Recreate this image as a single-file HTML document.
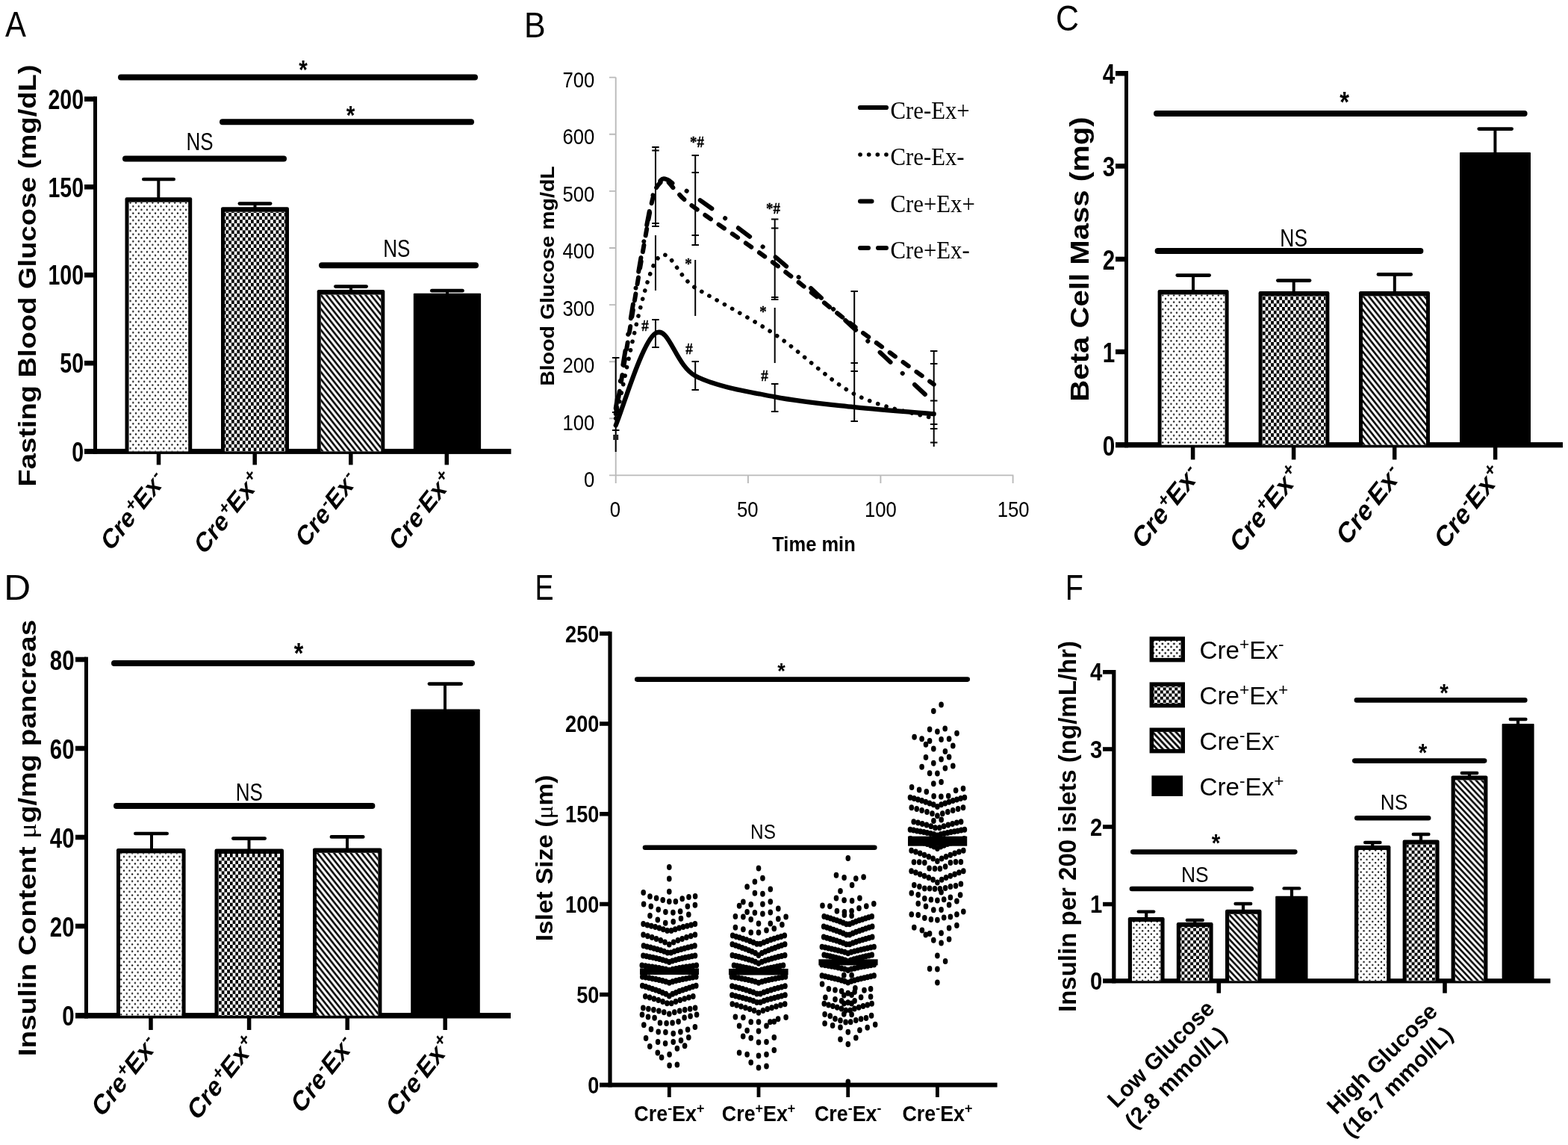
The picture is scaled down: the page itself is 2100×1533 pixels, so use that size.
<!DOCTYPE html>
<html lang="en"><head><meta charset="utf-8"><title>Figure</title>
<style>
html,body{margin:0;padding:0;background:#fff}
body{width:2100px;height:1533px;overflow:hidden}
svg{display:block}
text{font-family:"Liberation Sans", Arial, Helvetica, sans-serif;fill:#000}
text.sf{font-family:"Liberation Serif", "Times New Roman", serif}
</style></head><body>
<svg xmlns="http://www.w3.org/2000/svg" width="2100" height="1533" viewBox="0 0 2100 1533">
<defs>
<pattern id="Ad" patternUnits="userSpaceOnUse" x="176.44" y="273.85" width="7.45" height="9.39"><ellipse cx="1.86" cy="2.35" rx="1.15" ry="1.2"/><ellipse cx="5.59" cy="7.04" rx="1.15" ry="1.2"/></pattern>
<pattern id="Ac" patternUnits="userSpaceOnUse" x="306.2" y="284.9" width="7.45" height="9.39"><rect x="0" y="0" width="3.73" height="4.7"/><rect x="3.73" y="4.7" width="3.73" height="4.7"/></pattern>
<pattern id="Ah" patternUnits="userSpaceOnUse" x="437.26" y="394.9" width="7.45" height="9.39"><path d="M-7.45 -9.39L14.9 18.78M-14.9 -9.39L7.45 18.78M0 -9.39L22.35 18.78" stroke="#000" stroke-width="2.6" fill="none"/></pattern>
<pattern id="Cd" patternUnits="userSpaceOnUse" x="1559.14" y="397.65" width="7.45" height="9.39"><ellipse cx="1.86" cy="2.35" rx="1.15" ry="1.2"/><ellipse cx="5.59" cy="7.04" rx="1.15" ry="1.2"/></pattern>
<pattern id="Cc" patternUnits="userSpaceOnUse" x="1691" y="397" width="7.45" height="9.39"><rect x="0" y="0" width="3.73" height="4.7"/><rect x="3.73" y="4.7" width="3.73" height="4.7"/></pattern>
<pattern id="Ch" patternUnits="userSpaceOnUse" x="1826" y="397" width="7.45" height="9.39"><path d="M-7.45 -9.39L14.9 18.78M-14.9 -9.39L7.45 18.78M0 -9.39L22.35 18.78" stroke="#000" stroke-width="2.6" fill="none"/></pattern>
<pattern id="Dd" patternUnits="userSpaceOnUse" x="164.14" y="1144.65" width="7.45" height="9.39"><ellipse cx="1.86" cy="2.35" rx="1.15" ry="1.2"/><ellipse cx="5.59" cy="7.04" rx="1.15" ry="1.2"/></pattern>
<pattern id="Dc" patternUnits="userSpaceOnUse" x="293" y="1143" width="7.45" height="9.39"><rect x="0" y="0" width="3.73" height="4.7"/><rect x="3.73" y="4.7" width="3.73" height="4.7"/></pattern>
<pattern id="Dh" patternUnits="userSpaceOnUse" x="425" y="1142" width="7.45" height="9.39"><path d="M-7.45 -9.39L14.9 18.78M-14.9 -9.39L7.45 18.78M0 -9.39L22.35 18.78" stroke="#000" stroke-width="2.6" fill="none"/></pattern>
<pattern id="Fd" patternUnits="userSpaceOnUse" x="1520.45" y="1236.02" width="7.8" height="8.3"><ellipse cx="1.95" cy="2.08" rx="1.15" ry="1.15"/><ellipse cx="5.85" cy="6.23" rx="1.15" ry="1.15"/></pattern>
<pattern id="Fc" patternUnits="userSpaceOnUse" x="1582.5" y="1242.5" width="7.8" height="8.3"><rect x="0" y="0" width="3.9" height="4.15"/><rect x="3.9" y="4.15" width="3.9" height="4.15"/></pattern>
<pattern id="Fh" patternUnits="userSpaceOnUse" x="1646" y="1224" width="7.8" height="8.3"><path d="M-7.8 -8.3L15.6 16.6M-15.6 -8.3L7.8 16.6M0 -8.3L23.4 16.6" stroke="#000" stroke-width="2.6" fill="none"/></pattern>
<pattern id="Ld" patternUnits="userSpaceOnUse" x="1547.05" y="859.92" width="7.8" height="8.3"><ellipse cx="1.95" cy="2.08" rx="1.3" ry="1.3"/><ellipse cx="5.85" cy="6.23" rx="1.3" ry="1.3"/></pattern>
<pattern id="Lc" patternUnits="userSpaceOnUse" x="1546" y="858" width="7.8" height="8.3"><rect x="0" y="0" width="3.9" height="4.15"/><rect x="3.9" y="4.15" width="3.9" height="4.15"/></pattern>
<pattern id="Lh" patternUnits="userSpaceOnUse" x="1546" y="858" width="7.8" height="8.3"><path d="M-7.8 -8.3L15.6 16.6M-15.6 -8.3L7.8 16.6M0 -8.3L23.4 16.6" stroke="#000" stroke-width="2.8" fill="none"/></pattern>
</defs>
<rect width="2100" height="1533" fill="#fff"/>
<text transform="translate(7,49) scale(0.86,1)" font-size="48.7">A</text>
<text transform="translate(702,50) scale(0.88,1)" font-size="48.7">B</text>
<text transform="translate(1414,40.5) scale(0.88,1)" font-size="48.7">C</text>
<text transform="translate(5.2,803) scale(1.02,1)" font-size="48.7">D</text>
<text transform="translate(716.4,803) scale(0.77,1)" font-size="48.7">E</text>
<text transform="translate(1426.8,803) scale(0.81,1)" font-size="48.7">F</text>
<rect x="125" y="129.2" width="5" height="478.7"/>
<rect x="113" y="600.9" width="571.5" height="7"/>
<rect x="113" y="129.3" width="14.5" height="6.6"/>
<text transform="translate(112,145.8) scale(0.785,1)" font-size="36.3" font-weight="bold" text-anchor="end">200</text>
<rect x="113" y="247" width="14.5" height="6.6"/>
<text transform="translate(112,263.5) scale(0.785,1)" font-size="36.3" font-weight="bold" text-anchor="end">150</text>
<rect x="113" y="364.9" width="14.5" height="6.6"/>
<text transform="translate(112,381.4) scale(0.785,1)" font-size="36.3" font-weight="bold" text-anchor="end">100</text>
<rect x="113" y="482.9" width="14.5" height="6.6"/>
<text transform="translate(112,499.4) scale(0.785,1)" font-size="36.3" font-weight="bold" text-anchor="end">50</text>
<text transform="translate(112,617.8) scale(0.785,1)" font-size="36.3" font-weight="bold" text-anchor="end">0</text>
<rect x="209.75" y="604.4" width="5.5" height="18"/>
<rect x="338.45" y="604.4" width="5.5" height="18"/>
<rect x="467.05" y="604.4" width="5.5" height="18"/>
<rect x="595.55" y="604.4" width="5.5" height="18"/>
<path d="M167.5 604.4V266.4q0 -2.2 2.2 -2.2H255q2.2 0 2.2 2.2V604.4z"/>
<rect x="172.5" y="270.6" width="79.7" height="333.8" fill="#fff"/>
<rect x="172.5" y="270.6" width="79.7" height="333.8" fill="url(#Ad)"/>
<path d="M296 604.4V279.5q0 -2.2 2.2 -2.2H384.8q2.2 0 2.2 2.2V604.4z"/>
<rect x="301" y="283.7" width="81" height="320.7" fill="#fff"/>
<rect x="301" y="283.7" width="81" height="320.7" fill="url(#Ac)"/>
<path d="M424.7 604.4V390.3q0 -2.2 2.2 -2.2H513.1q2.2 0 2.2 2.2V604.4z"/>
<rect x="429.7" y="394.5" width="80.6" height="209.9" fill="#fff"/>
<rect x="429.7" y="394.5" width="80.6" height="209.9" fill="url(#Ah)"/>
<path d="M553.8 604.4V393.8q0 -1 1 -1H643.1q1 0 1 1V604.4z"/>
<path d="M192.35 240H232.65" stroke="#000" stroke-width="4.7" stroke-linecap="round"/>
<rect x="210.3" y="240" width="4" height="25.2"/>
<path d="M320.85 272.6H362.15" stroke="#000" stroke-width="4.7" stroke-linecap="round"/>
<rect x="339.5" y="272.6" width="4" height="5.7"/>
<path d="M449.35 383.6H490.65" stroke="#000" stroke-width="4.7" stroke-linecap="round"/>
<rect x="468" y="383.6" width="4" height="5.5"/>
<path d="M578.35 389.2H619.45" stroke="#000" stroke-width="4.7" stroke-linecap="round"/>
<rect x="597" y="389.2" width="4" height="4.6"/>
<path d="M162 103.6H636" stroke="#000" stroke-width="8" stroke-linecap="round"/>
<text transform="translate(406,105) scale(0.85,1)" font-size="35" font-weight="bold" text-anchor="middle">*</text>
<path d="M298 163.2H631" stroke="#000" stroke-width="8" stroke-linecap="round"/>
<text transform="translate(469.6,166) scale(0.85,1)" font-size="35" font-weight="bold" text-anchor="middle">*</text>
<path d="M168 212.4H380" stroke="#000" stroke-width="8" stroke-linecap="round"/>
<text transform="translate(267.5,201.3) scale(0.8,1)" font-size="32.5" text-anchor="middle">NS</text>
<path d="M431 355.2H637" stroke="#000" stroke-width="8" stroke-linecap="round"/>
<text transform="translate(531.4,344) scale(0.8,1)" font-size="32.5" text-anchor="middle">NS</text>
<text transform="translate(47.5,369) rotate(-90) scale(1,0.89)" font-size="38.1" font-weight="bold" text-anchor="middle">Fasting Blood Glucose (mg/dL)</text>
<text transform="translate(221.7,646.2) scale(0.79,1) rotate(-45)" font-size="37.4" font-weight="bold" text-anchor="end">Cre<tspan font-size="26.18" dy="-12.34">+</tspan><tspan dy="12.34">Ex</tspan><tspan font-size="26.18" dy="-12.34">-</tspan></text>
<text transform="translate(350.4,646.2) scale(0.79,1) rotate(-45)" font-size="37.4" font-weight="bold" text-anchor="end">Cre<tspan font-size="26.18" dy="-12.34">+</tspan><tspan dy="12.34">Ex</tspan><tspan font-size="26.18" dy="-12.34">+</tspan></text>
<text transform="translate(479,646.2) scale(0.79,1) rotate(-45)" font-size="37.4" font-weight="bold" text-anchor="end">Cre<tspan font-size="26.18" dy="-12.34">-</tspan><tspan dy="12.34">Ex</tspan><tspan font-size="26.18" dy="-12.34">-</tspan></text>
<text transform="translate(607.5,646.2) scale(0.79,1) rotate(-45)" font-size="37.4" font-weight="bold" text-anchor="end">Cre<tspan font-size="26.18" dy="-12.34">-</tspan><tspan dy="12.34">Ex</tspan><tspan font-size="26.18" dy="-12.34">+</tspan></text>
<path d="M824.7 103.6V647M816 636.4H1357.4M816 103.6H824.7M816 179.72H824.7M816 255.84H824.7M816 331.96H824.7M816 408.08H824.7M816 484.2H824.7M816 560.32H824.7M1001.9 636.4V647M1179.4 636.4V647M1356.6 636.4V647" stroke="#bababa" stroke-width="1.9" fill="none"/>
<text transform="translate(796.2,116.5) scale(0.85,1)" font-size="30.2" text-anchor="end">700</text>
<text transform="translate(796.2,193) scale(0.85,1)" font-size="30.2" text-anchor="end">600</text>
<text transform="translate(796.2,269.5) scale(0.85,1)" font-size="30.2" text-anchor="end">500</text>
<text transform="translate(796.2,346) scale(0.85,1)" font-size="30.2" text-anchor="end">400</text>
<text transform="translate(796.2,422.5) scale(0.85,1)" font-size="30.2" text-anchor="end">300</text>
<text transform="translate(796.2,499) scale(0.85,1)" font-size="30.2" text-anchor="end">200</text>
<text transform="translate(796.2,575.5) scale(0.85,1)" font-size="30.2" text-anchor="end">100</text>
<text transform="translate(796.2,652) scale(0.85,1)" font-size="30.2" text-anchor="end">0</text>
<text transform="translate(823.8,691.6) scale(0.85,1)" font-size="30.2" text-anchor="middle">0</text>
<text transform="translate(1001.2,691.6) scale(0.85,1)" font-size="30.2" text-anchor="middle">50</text>
<text transform="translate(1179.4,691.6) scale(0.85,1)" font-size="30.2" text-anchor="middle">100</text>
<text transform="translate(1357.2,691.6) scale(0.85,1)" font-size="30.2" text-anchor="middle">150</text>
<text transform="translate(1090,738.4) scale(0.905,1)" font-size="28.2" font-weight="bold" text-anchor="middle">Time min</text>
<text transform="translate(741.5,369.5) rotate(-90) scale(1,0.9)" font-size="28.5" font-weight="bold" text-anchor="middle">Blood Glucose mg/dL</text>
<path d="M824.7 479V605M819.95 479h9.5M819.95 552h9.5M819.95 576h9.5" stroke="#000" stroke-width="2" fill="none"/>
<rect x="821.2" y="582" width="7" height="7" fill="#222"/>
<path d="M877.95 197V303M873.2 197h9.5M873.2 201.5h9.5M873.2 299h9.5M873.2 303h9.5" stroke="#000" stroke-width="2" fill="none"/>
<path d="M877.95 315V389" stroke="#000" stroke-width="2" fill="none"/>
<path d="M877.95 428V465M873.2 428h9.5M873.2 465h9.5" stroke="#000" stroke-width="2" fill="none"/>
<path d="M931.2 208V328M926.45 208h9.5M926.45 231h9.5M926.45 315h9.5M926.45 328h9.5" stroke="#000" stroke-width="2" fill="none"/>
<path d="M931.2 348V423" stroke="#000" stroke-width="2" fill="none"/>
<path d="M931.2 484V522M926.45 484h9.5M926.45 522h9.5" stroke="#000" stroke-width="2" fill="none"/>
<path d="M1037.7 293.6V400M1032.95 293.6h9.5M1032.95 305.6h9.5M1032.95 398h9.5M1032.95 401h9.5" stroke="#000" stroke-width="2" fill="none"/>
<path d="M1037.7 412V486" stroke="#000" stroke-width="2" fill="none"/>
<path d="M1037.7 514V551M1032.95 514h9.5M1032.95 551h9.5" stroke="#000" stroke-width="2" fill="none"/>
<path d="M1144.2 390V565M1139.45 390h9.5M1139.45 486h9.5M1139.45 497h9.5M1139.45 564h9.5" stroke="#000" stroke-width="2" fill="none"/>
<path d="M1250.7 470V598M1245.95 470h9.5M1245.95 487h9.5M1245.95 536.6h9.5M1245.95 568h9.5M1245.95 574h9.5M1245.95 592.4h9.5" stroke="#000" stroke-width="2" fill="none"/>
<path d="M824.7 546.59C827.66 528.83 836.53 475.3 842.45 440.04C848.37 404.77 854.88 364.69 860.2 335C865.53 305.32 870.26 277.54 874.4 261.94C878.54 246.34 881.8 244.94 885.05 241.39C888.3 237.84 890.38 239.23 893.93 240.63C897.48 242.02 900.14 245.96 906.35 249.76C912.56 253.57 909.31 247.86 931.2 263.46C953.09 279.06 1002.2 313.95 1037.7 343.38C1073.2 372.81 1108.7 407.44 1144.2 440.04C1179.7 472.64 1232.95 522.49 1250.7 538.98" fill="none" stroke="#000" stroke-width="6" stroke-linecap="round" stroke-dasharray="19 22 0.1 22" stroke-dashoffset="4"/>
<path d="M824.7 554.2C827.66 536.44 836.53 483.17 842.45 447.65C848.37 412.13 854.88 371.54 860.2 341.09C865.53 310.65 870.26 281.22 874.4 264.98C878.54 248.75 881.8 247.35 885.05 243.67C888.3 239.99 890.38 240.75 893.93 242.91C897.48 245.07 900.14 250.65 906.35 256.61C912.56 262.57 909.31 262.57 931.2 278.68C953.09 294.79 1002.2 326.89 1037.7 353.27C1073.2 379.66 1108.7 410.1 1144.2 436.99C1179.7 463.88 1232.95 501.69 1250.7 514.62" fill="none" stroke="#000" stroke-width="6" stroke-linecap="round" stroke-dasharray="9 13"/>
<path d="M824.7 560.29C833.58 525.28 860.2 379.4 877.95 350.23C895.7 321.05 904.58 369 931.2 385.24C957.83 401.47 1002.2 423.93 1037.7 447.65C1073.2 471.37 1108.7 508.79 1144.2 527.56C1179.7 546.34 1232.95 554.84 1250.7 560.29" fill="none" stroke="#000" stroke-width="5.6" stroke-linecap="round" stroke-dasharray="0.1 11.6"/>
<path d="M824.7 569.42C833.58 548.87 860.2 457.16 877.95 446.12C895.7 435.09 904.58 489 931.2 503.21C957.83 517.41 1002.2 524.39 1037.7 531.37C1073.2 538.34 1108.7 541.26 1144.2 545.07C1179.7 548.87 1232.95 552.68 1250.7 554.2" fill="none" stroke="#000" stroke-width="6.2" stroke-linecap="round" stroke-linejoin="round"/>
<text transform="translate(933.5,197) scale(0.88,1)" font-size="21.5" class="sf" font-weight="bold" text-anchor="middle" stroke="#000" stroke-width="0.4">*#</text>
<text transform="translate(1035.5,285.5) scale(0.88,1)" font-size="21.5" class="sf" font-weight="bold" text-anchor="middle" stroke="#000" stroke-width="0.4">*#</text>
<text transform="translate(922,360) scale(0.88,1)" font-size="21.5" class="sf" font-weight="bold" text-anchor="middle" stroke="#000" stroke-width="0.4">*</text>
<text transform="translate(1022,424) scale(0.88,1)" font-size="21.5" class="sf" font-weight="bold" text-anchor="middle" stroke="#000" stroke-width="0.4">*</text>
<text transform="translate(864,442.5) scale(0.88,1)" font-size="21.5" class="sf" font-weight="bold" text-anchor="middle" stroke="#000" stroke-width="0.4">#</text>
<text transform="translate(923,473.5) scale(0.88,1)" font-size="21.5" class="sf" font-weight="bold" text-anchor="middle" stroke="#000" stroke-width="0.4">#</text>
<text transform="translate(1024,509.5) scale(0.88,1)" font-size="21.5" class="sf" font-weight="bold" text-anchor="middle" stroke="#000" stroke-width="0.4">#</text>
<path d="M1152 144H1187" stroke="#000" stroke-width="6.2" stroke-linecap="round"/>
<path d="M1152 207H1187" stroke="#000" stroke-width="5.6" stroke-linecap="round" stroke-dasharray="0.1 11.55"/>
<path d="M1152 269.4H1167.5" stroke="#000" stroke-width="6" stroke-linecap="round"/>
<path d="M1152 332H1187" stroke="#000" stroke-width="6" stroke-linecap="round" stroke-dasharray="11 13"/>
<text transform="translate(1192.5,159) scale(0.9,1)" font-size="34.2" class="sf">Cre-Ex+</text>
<text transform="translate(1192.5,221) scale(0.9,1)" font-size="34.2" class="sf">Cre-Ex-</text>
<text transform="translate(1192.5,283.6) scale(0.9,1)" font-size="34.2" class="sf">Cre+Ex+</text>
<text transform="translate(1192.5,345.6) scale(0.9,1)" font-size="34.2" class="sf">Cre+Ex-</text>
<rect x="1506" y="95" width="5" height="504.3"/>
<rect x="1494" y="592.1" width="599" height="7.2"/>
<rect x="1494" y="95" width="14.5" height="6.6"/>
<text transform="translate(1493.3,112.1) scale(0.785,1)" font-size="37.8" font-weight="bold" text-anchor="end">4</text>
<rect x="1494" y="219.1" width="14.5" height="6.6"/>
<text transform="translate(1493.3,236.2) scale(0.785,1)" font-size="37.8" font-weight="bold" text-anchor="end">3</text>
<rect x="1494" y="343.7" width="14.5" height="6.6"/>
<text transform="translate(1493.3,360.8) scale(0.785,1)" font-size="37.8" font-weight="bold" text-anchor="end">2</text>
<rect x="1494" y="467.7" width="14.5" height="6.6"/>
<text transform="translate(1493.3,484.8) scale(0.785,1)" font-size="37.8" font-weight="bold" text-anchor="end">1</text>
<text transform="translate(1493.3,609.7) scale(0.785,1)" font-size="37.8" font-weight="bold" text-anchor="end">0</text>
<rect x="1594.85" y="595.7" width="5.5" height="19.7"/>
<rect x="1729.85" y="595.7" width="5.5" height="19.7"/>
<rect x="1864.95" y="595.7" width="5.5" height="19.7"/>
<rect x="1999.85" y="595.7" width="5.5" height="19.7"/>
<path d="M1550.6 595.7V390.2q0 -2.2 2.2 -2.2H1643.4q2.2 0 2.2 2.2V595.7z"/>
<rect x="1555.6" y="394.4" width="85" height="201.3" fill="#fff"/>
<rect x="1555.6" y="394.4" width="85" height="201.3" fill="url(#Cd)"/>
<path d="M1685.6 595.7V392.2q0 -2.2 2.2 -2.2H1778.2q2.2 0 2.2 2.2V595.7z"/>
<rect x="1690.6" y="396.4" width="84.8" height="199.3" fill="#fff"/>
<rect x="1690.6" y="396.4" width="84.8" height="199.3" fill="url(#Cc)"/>
<path d="M1820 595.7V392.2q0 -2.2 2.2 -2.2H1912.8q2.2 0 2.2 2.2V595.7z"/>
<rect x="1825" y="396.4" width="85" height="199.3" fill="#fff"/>
<rect x="1825" y="396.4" width="85" height="199.3" fill="url(#Ch)"/>
<path d="M1955 595.7V205q0 -1 1 -1H2049q1 0 1 1V595.7z"/>
<path d="M1576.75 368.6H1619.65" stroke="#000" stroke-width="4.7" stroke-linecap="round"/>
<rect x="1596" y="368.6" width="4" height="20.4"/>
<path d="M1711.35 375.6H1754.05" stroke="#000" stroke-width="4.7" stroke-linecap="round"/>
<rect x="1730.7" y="375.6" width="4" height="15.4"/>
<path d="M1845.95 367.4H1889.65" stroke="#000" stroke-width="4.7" stroke-linecap="round"/>
<rect x="1865.8" y="367.4" width="4" height="23.6"/>
<path d="M1980.75 172.6H2024.65" stroke="#000" stroke-width="4.7" stroke-linecap="round"/>
<rect x="2000.4" y="172.6" width="4" height="32.4"/>
<path d="M1549 152H2041.6" stroke="#000" stroke-width="8" stroke-linecap="round"/>
<text transform="translate(1800.6,149.5) scale(0.85,1)" font-size="38.5" font-weight="bold" text-anchor="middle">*</text>
<path d="M1550.6 336H1902.4" stroke="#000" stroke-width="8" stroke-linecap="round"/>
<text transform="translate(1732.7,329.8) scale(0.8,1)" font-size="33" text-anchor="middle">NS</text>
<text transform="translate(1458,347) rotate(-90) scale(1,0.88)" font-size="40.15" font-weight="bold" text-anchor="middle">Beta Cell Mass (mg)</text>
<text transform="translate(1607.2,638.9) scale(0.79,1) rotate(-45)" font-size="39.3" font-weight="bold" text-anchor="end">Cre<tspan font-size="27.51" dy="-12.97">+</tspan><tspan dy="12.97">Ex</tspan><tspan font-size="27.51" dy="-12.97">-</tspan></text>
<text transform="translate(1742.2,638.9) scale(0.79,1) rotate(-45)" font-size="39.3" font-weight="bold" text-anchor="end">Cre<tspan font-size="27.51" dy="-12.97">+</tspan><tspan dy="12.97">Ex</tspan><tspan font-size="27.51" dy="-12.97">+</tspan></text>
<text transform="translate(1877.3,638.9) scale(0.79,1) rotate(-45)" font-size="39.3" font-weight="bold" text-anchor="end">Cre<tspan font-size="27.51" dy="-12.97">-</tspan><tspan dy="12.97">Ex</tspan><tspan font-size="27.51" dy="-12.97">-</tspan></text>
<text transform="translate(2012.2,638.9) scale(0.79,1) rotate(-45)" font-size="39.3" font-weight="bold" text-anchor="end">Cre<tspan font-size="27.51" dy="-12.97">-</tspan><tspan dy="12.97">Ex</tspan><tspan font-size="27.51" dy="-12.97">+</tspan></text>
<rect x="113" y="879.6" width="5" height="483.9"/>
<rect x="101" y="1356.1" width="583" height="7.4"/>
<rect x="101" y="879.7" width="14.5" height="6.6"/>
<text transform="translate(99.5,896.6) scale(0.785,1)" font-size="37.4" font-weight="bold" text-anchor="end">80</text>
<rect x="101" y="998.7" width="14.5" height="6.6"/>
<text transform="translate(99.5,1015.6) scale(0.785,1)" font-size="37.4" font-weight="bold" text-anchor="end">60</text>
<rect x="101" y="1117.7" width="14.5" height="6.6"/>
<text transform="translate(99.5,1134.6) scale(0.785,1)" font-size="37.4" font-weight="bold" text-anchor="end">40</text>
<rect x="101" y="1236.7" width="14.5" height="6.6"/>
<text transform="translate(99.5,1253.6) scale(0.785,1)" font-size="37.4" font-weight="bold" text-anchor="end">20</text>
<text transform="translate(99.5,1373.4) scale(0.785,1)" font-size="37.4" font-weight="bold" text-anchor="end">0</text>
<rect x="199.25" y="1359.8" width="5.5" height="19.2"/>
<rect x="330.85" y="1359.8" width="5.5" height="19.2"/>
<rect x="462.45" y="1359.8" width="5.5" height="19.2"/>
<rect x="593.45" y="1359.8" width="5.5" height="19.2"/>
<path d="M156 1359.8V1138.2q0 -2.2 2.2 -2.2H246.4q2.2 0 2.2 2.2V1359.8z"/>
<rect x="161" y="1142.4" width="82.6" height="217.4" fill="#fff"/>
<rect x="161" y="1142.4" width="82.6" height="217.4" fill="url(#Dd)"/>
<path d="M287.5 1359.8V1138.8q0 -2.2 2.2 -2.2H377.8q2.2 0 2.2 2.2V1359.8z"/>
<rect x="292.5" y="1143" width="82.5" height="216.8" fill="#fff"/>
<rect x="292.5" y="1143" width="82.5" height="216.8" fill="url(#Dc)"/>
<path d="M419 1359.8V1137.6q0 -2.2 2.2 -2.2H509.2q2.2 0 2.2 2.2V1359.8z"/>
<rect x="424" y="1141.8" width="82.4" height="218" fill="#fff"/>
<rect x="424" y="1141.8" width="82.4" height="218" fill="url(#Dh)"/>
<path d="M550.2 1359.8V950.6q0 -1 1 -1H641.8q1 0 1 1V1359.8z"/>
<path d="M181.35 1116H223.65" stroke="#000" stroke-width="4.7" stroke-linecap="round"/>
<rect x="201" y="1116" width="4" height="21"/>
<path d="M312.35 1122.6H354.65" stroke="#000" stroke-width="4.7" stroke-linecap="round"/>
<rect x="331.5" y="1122.6" width="4" height="15"/>
<path d="M443.95 1120.4H486.25" stroke="#000" stroke-width="4.7" stroke-linecap="round"/>
<rect x="463" y="1120.4" width="4" height="16"/>
<path d="M574.95 915.6H617.65" stroke="#000" stroke-width="4.7" stroke-linecap="round"/>
<rect x="594" y="915.6" width="4" height="35"/>
<path d="M152.9 888H632.1" stroke="#000" stroke-width="7.8" stroke-linecap="round"/>
<text transform="translate(400,887.5) scale(0.85,1)" font-size="38" font-weight="bold" text-anchor="middle">*</text>
<path d="M155.9 1079H498.5" stroke="#000" stroke-width="7.8" stroke-linecap="round"/>
<text transform="translate(333.7,1072.3) scale(0.8,1)" font-size="32.5" text-anchor="middle">NS</text>
<text transform="translate(47.5,1122) rotate(-90) scale(1,0.88)" font-size="38.6" font-weight="bold" text-anchor="middle">Insulin Content <tspan font-weight="normal" class="sf" font-family='"Liberation Serif", serif'>μ</tspan>g/mg pancreas</text>
<text transform="translate(211.4,1402) scale(0.79,1) rotate(-45)" font-size="38.2" font-weight="bold" text-anchor="end">Cre<tspan font-size="26.74" dy="-12.61">+</tspan><tspan dy="12.61">Ex</tspan><tspan font-size="26.74" dy="-12.61">-</tspan></text>
<text transform="translate(343,1402) scale(0.79,1) rotate(-45)" font-size="38.2" font-weight="bold" text-anchor="end">Cre<tspan font-size="26.74" dy="-12.61">+</tspan><tspan dy="12.61">Ex</tspan><tspan font-size="26.74" dy="-12.61">+</tspan></text>
<text transform="translate(474.6,1402) scale(0.79,1) rotate(-45)" font-size="38.2" font-weight="bold" text-anchor="end">Cre<tspan font-size="26.74" dy="-12.61">-</tspan><tspan dy="12.61">Ex</tspan><tspan font-size="26.74" dy="-12.61">-</tspan></text>
<text transform="translate(605.6,1402) scale(0.79,1) rotate(-45)" font-size="38.2" font-weight="bold" text-anchor="end">Cre<tspan font-size="26.74" dy="-12.61">-</tspan><tspan dy="12.61">Ex</tspan><tspan font-size="26.74" dy="-12.61">+</tspan></text>
<rect x="814.4" y="845.6" width="5.2" height="610"/>
<rect x="803" y="1449.6" width="532.6" height="6"/>
<rect x="803" y="845.5" width="14" height="5.6"/>
<text transform="translate(802.3,859.6) scale(0.875,1)" font-size="31" font-weight="bold" text-anchor="end">250</text>
<rect x="803" y="966.2" width="14" height="5.6"/>
<text transform="translate(802.3,980.3) scale(0.875,1)" font-size="31" font-weight="bold" text-anchor="end">200</text>
<rect x="803" y="1087" width="14" height="5.6"/>
<text transform="translate(802.3,1101.1) scale(0.875,1)" font-size="31" font-weight="bold" text-anchor="end">150</text>
<rect x="803" y="1207.7" width="14" height="5.6"/>
<text transform="translate(802.3,1221.8) scale(0.875,1)" font-size="31" font-weight="bold" text-anchor="end">100</text>
<rect x="803" y="1328.8" width="14" height="5.6"/>
<text transform="translate(802.3,1342.9) scale(0.875,1)" font-size="31" font-weight="bold" text-anchor="end">50</text>
<text transform="translate(802.3,1463.9) scale(0.875,1)" font-size="31" font-weight="bold" text-anchor="end">0</text>
<rect x="893.9" y="1452.6" width="4.8" height="16.4"/>
<rect x="1013.6" y="1452.6" width="4.8" height="16.4"/>
<rect x="1133.3" y="1452.6" width="4.8" height="16.4"/>
<rect x="1253" y="1452.6" width="4.8" height="16.4"/>
<path d="M853.3 909.6H1295.7" stroke="#000" stroke-width="6.6" stroke-linecap="round"/>
<text transform="translate(1046.6,908) scale(0.9,1)" font-size="30" font-weight="bold" text-anchor="middle">*</text>
<path d="M864 1134.8H1171.3" stroke="#000" stroke-width="6.6" stroke-linecap="round"/>
<text transform="translate(1022,1122.8) scale(0.86,1)" font-size="28.3" text-anchor="middle">NS</text>
<text transform="translate(740,1149) rotate(-90) scale(1,0.92)" font-size="33.5" font-weight="bold" text-anchor="middle">Islet Size (<tspan font-weight="normal" font-family='"Liberation Serif", serif'>μ</tspan>m)</text>
<text transform="translate(896.3,1501) scale(0.92,1)" font-size="29.2" font-weight="bold" text-anchor="middle">Cre<tspan font-size="19.27" dy="-11.1">-</tspan><tspan dy="11.1">Ex</tspan><tspan font-size="19.27" dy="-11.1">+</tspan></text>
<text transform="translate(1016,1501) scale(0.92,1)" font-size="29.2" font-weight="bold" text-anchor="middle">Cre<tspan font-size="19.27" dy="-11.1">+</tspan><tspan dy="11.1">Ex</tspan><tspan font-size="19.27" dy="-11.1">+</tspan></text>
<text transform="translate(1135.7,1501) scale(0.92,1)" font-size="29.2" font-weight="bold" text-anchor="middle">Cre<tspan font-size="19.27" dy="-11.1">-</tspan><tspan dy="11.1">Ex</tspan><tspan font-size="19.27" dy="-11.1">-</tspan></text>
<text transform="translate(1255.4,1501) scale(0.92,1)" font-size="29.2" font-weight="bold" text-anchor="middle">Cre<tspan font-size="19.27" dy="-11.1">-</tspan><tspan dy="11.1">Ex</tspan><tspan font-size="19.27" dy="-11.1">+</tspan></text>
<g><ellipse cx="896.3" cy="1161.1" rx="3.3" ry="4"/><ellipse cx="896.3" cy="1176.6" rx="3.3" ry="4"/><ellipse cx="896.3" cy="1193.7" rx="3.3" ry="4"/><ellipse cx="861.7" cy="1194.9" rx="3.3" ry="4"/><ellipse cx="870.5" cy="1200.2" rx="3.3" ry="4"/><ellipse cx="879.1" cy="1202.6" rx="3.3" ry="4"/><ellipse cx="887.7" cy="1204.9" rx="3.3" ry="4"/><ellipse cx="896.3" cy="1207.1" rx="3.3" ry="4"/><ellipse cx="904.9" cy="1207.1" rx="3.3" ry="4"/><ellipse cx="913.7" cy="1203.2" rx="3.3" ry="4"/><ellipse cx="922.5" cy="1200.9" rx="3.3" ry="4"/><ellipse cx="931.1" cy="1200.0" rx="3.3" ry="4"/><ellipse cx="862.1" cy="1210.5" rx="3.3" ry="4"/><ellipse cx="871.8" cy="1213.5" rx="3.3" ry="4"/><ellipse cx="881.7" cy="1217.7" rx="3.3" ry="4"/><ellipse cx="891.4" cy="1220.9" rx="3.3" ry="4"/><ellipse cx="901.4" cy="1221.8" rx="3.3" ry="4"/><ellipse cx="911.1" cy="1220.2" rx="3.3" ry="4"/><ellipse cx="920.9" cy="1213.5" rx="3.3" ry="4"/><ellipse cx="930.9" cy="1211.8" rx="3.3" ry="4"/><ellipse cx="870.5" cy="1226.1" rx="3.3" ry="4"/><ellipse cx="880.8" cy="1231.4" rx="3.3" ry="4"/><ellipse cx="891.2" cy="1235.8" rx="3.3" ry="4"/><ellipse cx="901.7" cy="1233.9" rx="3.3" ry="4"/><ellipse cx="912.0" cy="1229.7" rx="3.3" ry="4"/><ellipse cx="922.3" cy="1224.6" rx="3.3" ry="4"/><ellipse cx="861.6" cy="1237.1" rx="3.3" ry="4"/><ellipse cx="867.0" cy="1238.4" rx="3.3" ry="4"/><ellipse cx="872.3" cy="1239.7" rx="3.3" ry="4"/><ellipse cx="877.6" cy="1241.1" rx="3.3" ry="4"/><ellipse cx="883.0" cy="1242.6" rx="3.3" ry="4"/><ellipse cx="888.3" cy="1244.2" rx="3.3" ry="4"/><ellipse cx="893.6" cy="1246.1" rx="3.3" ry="4"/><ellipse cx="899.0" cy="1246.1" rx="3.3" ry="4"/><ellipse cx="904.3" cy="1244.2" rx="3.3" ry="4"/><ellipse cx="909.6" cy="1242.6" rx="3.3" ry="4"/><ellipse cx="915.0" cy="1241.1" rx="3.3" ry="4"/><ellipse cx="920.3" cy="1239.7" rx="3.3" ry="4"/><ellipse cx="925.6" cy="1238.4" rx="3.3" ry="4"/><ellipse cx="930.9" cy="1237.1" rx="3.3" ry="4"/><ellipse cx="861.6" cy="1251.4" rx="3.3" ry="4"/><ellipse cx="867.4" cy="1253.2" rx="3.3" ry="4"/><ellipse cx="873.2" cy="1255.1" rx="3.3" ry="4"/><ellipse cx="879.0" cy="1257.0" rx="3.3" ry="4"/><ellipse cx="884.8" cy="1259.1" rx="3.3" ry="4"/><ellipse cx="890.5" cy="1261.5" rx="3.3" ry="4"/><ellipse cx="896.3" cy="1264.6" rx="3.3" ry="4"/><ellipse cx="902.1" cy="1261.5" rx="3.3" ry="4"/><ellipse cx="907.9" cy="1259.1" rx="3.3" ry="4"/><ellipse cx="913.6" cy="1257.0" rx="3.3" ry="4"/><ellipse cx="919.4" cy="1255.1" rx="3.3" ry="4"/><ellipse cx="925.2" cy="1253.2" rx="3.3" ry="4"/><ellipse cx="930.9" cy="1251.4" rx="3.3" ry="4"/><ellipse cx="862.0" cy="1266.3" rx="3.3" ry="4"/><ellipse cx="866.6" cy="1267.4" rx="3.3" ry="4"/><ellipse cx="871.2" cy="1268.6" rx="3.3" ry="4"/><ellipse cx="875.8" cy="1269.8" rx="3.3" ry="4"/><ellipse cx="880.3" cy="1271.0" rx="3.3" ry="4"/><ellipse cx="884.9" cy="1272.3" rx="3.3" ry="4"/><ellipse cx="889.4" cy="1273.8" rx="3.3" ry="4"/><ellipse cx="894.0" cy="1275.4" rx="3.3" ry="4"/><ellipse cx="898.6" cy="1275.4" rx="3.3" ry="4"/><ellipse cx="903.1" cy="1273.8" rx="3.3" ry="4"/><ellipse cx="907.7" cy="1272.3" rx="3.3" ry="4"/><ellipse cx="912.3" cy="1271.0" rx="3.3" ry="4"/><ellipse cx="916.8" cy="1269.8" rx="3.3" ry="4"/><ellipse cx="921.4" cy="1268.6" rx="3.3" ry="4"/><ellipse cx="926.0" cy="1267.4" rx="3.3" ry="4"/><ellipse cx="930.5" cy="1266.3" rx="3.3" ry="4"/><ellipse cx="861.5" cy="1279.4" rx="3.3" ry="4"/><ellipse cx="865.9" cy="1280.3" rx="3.3" ry="4"/><ellipse cx="870.2" cy="1281.2" rx="3.3" ry="4"/><ellipse cx="874.6" cy="1282.1" rx="3.3" ry="4"/><ellipse cx="878.9" cy="1283.1" rx="3.3" ry="4"/><ellipse cx="883.3" cy="1284.1" rx="3.3" ry="4"/><ellipse cx="887.6" cy="1285.2" rx="3.3" ry="4"/><ellipse cx="892.0" cy="1286.4" rx="3.3" ry="4"/><ellipse cx="896.3" cy="1288.0" rx="3.3" ry="4"/><ellipse cx="900.6" cy="1286.4" rx="3.3" ry="4"/><ellipse cx="905.0" cy="1285.2" rx="3.3" ry="4"/><ellipse cx="909.3" cy="1284.1" rx="3.3" ry="4"/><ellipse cx="913.7" cy="1283.1" rx="3.3" ry="4"/><ellipse cx="918.0" cy="1282.1" rx="3.3" ry="4"/><ellipse cx="922.4" cy="1281.2" rx="3.3" ry="4"/><ellipse cx="926.7" cy="1280.3" rx="3.3" ry="4"/><ellipse cx="931.0" cy="1279.4" rx="3.3" ry="4"/><ellipse cx="859.8" cy="1292.6" rx="3.3" ry="4"/><ellipse cx="864.4" cy="1293.2" rx="3.3" ry="4"/><ellipse cx="868.9" cy="1293.9" rx="3.3" ry="4"/><ellipse cx="873.5" cy="1294.6" rx="3.3" ry="4"/><ellipse cx="878.0" cy="1295.3" rx="3.3" ry="4"/><ellipse cx="882.6" cy="1296.1" rx="3.3" ry="4"/><ellipse cx="887.2" cy="1296.9" rx="3.3" ry="4"/><ellipse cx="891.7" cy="1297.8" rx="3.3" ry="4"/><ellipse cx="896.3" cy="1299.0" rx="3.3" ry="4"/><ellipse cx="900.9" cy="1297.8" rx="3.3" ry="4"/><ellipse cx="905.4" cy="1296.9" rx="3.3" ry="4"/><ellipse cx="910.0" cy="1296.1" rx="3.3" ry="4"/><ellipse cx="914.5" cy="1295.3" rx="3.3" ry="4"/><ellipse cx="919.1" cy="1294.6" rx="3.3" ry="4"/><ellipse cx="923.7" cy="1293.9" rx="3.3" ry="4"/><ellipse cx="928.2" cy="1293.2" rx="3.3" ry="4"/><ellipse cx="932.8" cy="1292.6" rx="3.3" ry="4"/><ellipse cx="860.3" cy="1307.7" rx="3.3" ry="4"/><ellipse cx="864.8" cy="1308.5" rx="3.3" ry="4"/><ellipse cx="869.3" cy="1309.3" rx="3.3" ry="4"/><ellipse cx="873.8" cy="1310.2" rx="3.3" ry="4"/><ellipse cx="878.3" cy="1311.1" rx="3.3" ry="4"/><ellipse cx="882.8" cy="1312.0" rx="3.3" ry="4"/><ellipse cx="887.3" cy="1313.1" rx="3.3" ry="4"/><ellipse cx="891.8" cy="1314.2" rx="3.3" ry="4"/><ellipse cx="896.3" cy="1315.7" rx="3.3" ry="4"/><ellipse cx="900.8" cy="1314.2" rx="3.3" ry="4"/><ellipse cx="905.3" cy="1313.1" rx="3.3" ry="4"/><ellipse cx="909.8" cy="1312.0" rx="3.3" ry="4"/><ellipse cx="914.3" cy="1311.1" rx="3.3" ry="4"/><ellipse cx="918.8" cy="1310.2" rx="3.3" ry="4"/><ellipse cx="923.3" cy="1309.3" rx="3.3" ry="4"/><ellipse cx="927.8" cy="1308.5" rx="3.3" ry="4"/><ellipse cx="932.3" cy="1307.7" rx="3.3" ry="4"/><ellipse cx="860.3" cy="1319.7" rx="3.3" ry="4"/><ellipse cx="864.8" cy="1321.1" rx="3.3" ry="4"/><ellipse cx="869.3" cy="1322.5" rx="3.3" ry="4"/><ellipse cx="873.8" cy="1324.0" rx="3.3" ry="4"/><ellipse cx="878.3" cy="1325.5" rx="3.3" ry="4"/><ellipse cx="882.8" cy="1327.1" rx="3.3" ry="4"/><ellipse cx="887.3" cy="1328.9" rx="3.3" ry="4"/><ellipse cx="891.8" cy="1330.8" rx="3.3" ry="4"/><ellipse cx="896.3" cy="1333.4" rx="3.3" ry="4"/><ellipse cx="900.8" cy="1330.8" rx="3.3" ry="4"/><ellipse cx="905.3" cy="1328.9" rx="3.3" ry="4"/><ellipse cx="909.8" cy="1327.1" rx="3.3" ry="4"/><ellipse cx="914.3" cy="1325.5" rx="3.3" ry="4"/><ellipse cx="918.8" cy="1324.0" rx="3.3" ry="4"/><ellipse cx="923.3" cy="1322.5" rx="3.3" ry="4"/><ellipse cx="927.8" cy="1321.1" rx="3.3" ry="4"/><ellipse cx="932.3" cy="1319.7" rx="3.3" ry="4"/><ellipse cx="864.3" cy="1334.0" rx="3.3" ry="4"/><ellipse cx="870.1" cy="1335.6" rx="3.3" ry="4"/><ellipse cx="875.9" cy="1337.3" rx="3.3" ry="4"/><ellipse cx="881.8" cy="1339.1" rx="3.3" ry="4"/><ellipse cx="887.6" cy="1341.0" rx="3.3" ry="4"/><ellipse cx="893.4" cy="1343.3" rx="3.3" ry="4"/><ellipse cx="899.2" cy="1343.3" rx="3.3" ry="4"/><ellipse cx="905.0" cy="1341.0" rx="3.3" ry="4"/><ellipse cx="910.8" cy="1339.1" rx="3.3" ry="4"/><ellipse cx="916.7" cy="1337.3" rx="3.3" ry="4"/><ellipse cx="922.5" cy="1335.6" rx="3.3" ry="4"/><ellipse cx="928.3" cy="1334.0" rx="3.3" ry="4"/><ellipse cx="861.4" cy="1349.4" rx="3.3" ry="4"/><ellipse cx="868.4" cy="1350.7" rx="3.3" ry="4"/><ellipse cx="875.4" cy="1352.1" rx="3.3" ry="4"/><ellipse cx="882.4" cy="1353.6" rx="3.3" ry="4"/><ellipse cx="889.3" cy="1355.2" rx="3.3" ry="4"/><ellipse cx="896.3" cy="1357.4" rx="3.3" ry="4"/><ellipse cx="903.3" cy="1355.2" rx="3.3" ry="4"/><ellipse cx="910.2" cy="1353.6" rx="3.3" ry="4"/><ellipse cx="917.2" cy="1352.1" rx="3.3" ry="4"/><ellipse cx="924.2" cy="1350.7" rx="3.3" ry="4"/><ellipse cx="931.1" cy="1349.4" rx="3.3" ry="4"/><ellipse cx="860.0" cy="1358.6" rx="3.3" ry="4"/><ellipse cx="868.0" cy="1361.4" rx="3.3" ry="4"/><ellipse cx="876.6" cy="1362.8" rx="3.3" ry="4"/><ellipse cx="884.0" cy="1369.4" rx="3.3" ry="4"/><ellipse cx="892.6" cy="1370.0" rx="3.3" ry="4"/><ellipse cx="900.6" cy="1369.4" rx="3.3" ry="4"/><ellipse cx="908.6" cy="1367.7" rx="3.3" ry="4"/><ellipse cx="916.6" cy="1362.6" rx="3.3" ry="4"/><ellipse cx="924.6" cy="1360.6" rx="3.3" ry="4"/><ellipse cx="933.1" cy="1358.6" rx="3.3" ry="4"/><ellipse cx="862.3" cy="1372.3" rx="3.3" ry="4"/><ellipse cx="872.0" cy="1378.0" rx="3.3" ry="4"/><ellipse cx="881.7" cy="1381.4" rx="3.3" ry="4"/><ellipse cx="891.4" cy="1382.0" rx="3.3" ry="4"/><ellipse cx="901.7" cy="1383.7" rx="3.3" ry="4"/><ellipse cx="911.4" cy="1381.4" rx="3.3" ry="4"/><ellipse cx="921.1" cy="1378.6" rx="3.3" ry="4"/><ellipse cx="930.9" cy="1375.1" rx="3.3" ry="4"/><ellipse cx="865.1" cy="1390.0" rx="3.3" ry="4"/><ellipse cx="881.1" cy="1395.1" rx="3.3" ry="4"/><ellipse cx="891.1" cy="1396.9" rx="3.3" ry="4"/><ellipse cx="901.7" cy="1395.1" rx="3.3" ry="4"/><ellipse cx="912.0" cy="1392.9" rx="3.3" ry="4"/><ellipse cx="922.3" cy="1388.9" rx="3.3" ry="4"/><ellipse cx="870.3" cy="1400.9" rx="3.3" ry="4"/><ellipse cx="906.9" cy="1403.7" rx="3.3" ry="4"/><ellipse cx="917.1" cy="1400.3" rx="3.3" ry="4"/><ellipse cx="880.8" cy="1409.4" rx="3.3" ry="4"/><ellipse cx="896.6" cy="1411.7" rx="3.3" ry="4"/><ellipse cx="886.1" cy="1415.7" rx="3.3" ry="4"/><ellipse cx="896.6" cy="1426.6" rx="3.3" ry="4"/><ellipse cx="906.9" cy="1425.4" rx="3.3" ry="4"/><ellipse cx="1016.0" cy="1162.5" rx="3.3" ry="4"/><ellipse cx="1021.4" cy="1175.8" rx="3.3" ry="4"/><ellipse cx="1010.9" cy="1180.6" rx="3.3" ry="4"/><ellipse cx="1000.6" cy="1187.2" rx="3.3" ry="4"/><ellipse cx="1031.8" cy="1190.5" rx="3.3" ry="4"/><ellipse cx="1010.9" cy="1195.8" rx="3.3" ry="4"/><ellipse cx="1021.4" cy="1196.8" rx="3.3" ry="4"/><ellipse cx="995.4" cy="1207.4" rx="3.3" ry="4"/><ellipse cx="1031.8" cy="1207.2" rx="3.3" ry="4"/><ellipse cx="990.1" cy="1212.7" rx="3.3" ry="4"/><ellipse cx="1005.7" cy="1211.1" rx="3.3" ry="4"/><ellipse cx="1021.4" cy="1210.6" rx="3.3" ry="4"/><ellipse cx="1042.3" cy="1216.6" rx="3.3" ry="4"/><ellipse cx="1000.6" cy="1220.9" rx="3.3" ry="4"/><ellipse cx="1010.9" cy="1222.1" rx="3.3" ry="4"/><ellipse cx="1021.4" cy="1223.4" rx="3.3" ry="4"/><ellipse cx="1031.8" cy="1221.4" rx="3.3" ry="4"/><ellipse cx="984.9" cy="1226.9" rx="3.3" ry="4"/><ellipse cx="995.4" cy="1227.4" rx="3.3" ry="4"/><ellipse cx="1005.7" cy="1230.9" rx="3.3" ry="4"/><ellipse cx="1042.3" cy="1230.3" rx="3.3" ry="4"/><ellipse cx="1052.6" cy="1227.4" rx="3.3" ry="4"/><ellipse cx="1016.0" cy="1236.6" rx="3.3" ry="4"/><ellipse cx="1031.8" cy="1236.6" rx="3.3" ry="4"/><ellipse cx="1047.4" cy="1237.9" rx="3.3" ry="4"/><ellipse cx="984.9" cy="1241.7" rx="3.3" ry="4"/><ellipse cx="995.4" cy="1244.2" rx="3.3" ry="4"/><ellipse cx="1026.5" cy="1245.4" rx="3.3" ry="4"/><ellipse cx="1036.8" cy="1243.2" rx="3.3" ry="4"/><ellipse cx="1005.7" cy="1248.6" rx="3.3" ry="4"/><ellipse cx="1016.0" cy="1248.6" rx="3.3" ry="4"/><ellipse cx="981.2" cy="1252.6" rx="3.3" ry="4"/><ellipse cx="985.9" cy="1254.0" rx="3.3" ry="4"/><ellipse cx="990.5" cy="1255.3" rx="3.3" ry="4"/><ellipse cx="995.1" cy="1256.8" rx="3.3" ry="4"/><ellipse cx="999.8" cy="1258.3" rx="3.3" ry="4"/><ellipse cx="1004.4" cy="1259.9" rx="3.3" ry="4"/><ellipse cx="1009.0" cy="1261.7" rx="3.3" ry="4"/><ellipse cx="1013.7" cy="1263.7" rx="3.3" ry="4"/><ellipse cx="1018.3" cy="1263.7" rx="3.3" ry="4"/><ellipse cx="1023.0" cy="1261.7" rx="3.3" ry="4"/><ellipse cx="1027.6" cy="1259.9" rx="3.3" ry="4"/><ellipse cx="1032.2" cy="1258.3" rx="3.3" ry="4"/><ellipse cx="1036.8" cy="1256.8" rx="3.3" ry="4"/><ellipse cx="1041.5" cy="1255.3" rx="3.3" ry="4"/><ellipse cx="1046.1" cy="1254.0" rx="3.3" ry="4"/><ellipse cx="1050.8" cy="1252.6" rx="3.3" ry="4"/><ellipse cx="980.8" cy="1264.3" rx="3.3" ry="4"/><ellipse cx="985.2" cy="1265.8" rx="3.3" ry="4"/><ellipse cx="989.6" cy="1267.3" rx="3.3" ry="4"/><ellipse cx="994.0" cy="1268.9" rx="3.3" ry="4"/><ellipse cx="998.4" cy="1270.5" rx="3.3" ry="4"/><ellipse cx="1002.8" cy="1272.2" rx="3.3" ry="4"/><ellipse cx="1007.2" cy="1274.1" rx="3.3" ry="4"/><ellipse cx="1011.6" cy="1276.1" rx="3.3" ry="4"/><ellipse cx="1016.0" cy="1278.9" rx="3.3" ry="4"/><ellipse cx="1020.4" cy="1276.1" rx="3.3" ry="4"/><ellipse cx="1024.8" cy="1274.1" rx="3.3" ry="4"/><ellipse cx="1029.2" cy="1272.2" rx="3.3" ry="4"/><ellipse cx="1033.6" cy="1270.5" rx="3.3" ry="4"/><ellipse cx="1038.0" cy="1268.9" rx="3.3" ry="4"/><ellipse cx="1042.4" cy="1267.3" rx="3.3" ry="4"/><ellipse cx="1046.8" cy="1265.8" rx="3.3" ry="4"/><ellipse cx="1051.2" cy="1264.3" rx="3.3" ry="4"/><ellipse cx="980.8" cy="1278.9" rx="3.3" ry="4"/><ellipse cx="985.2" cy="1280.0" rx="3.3" ry="4"/><ellipse cx="989.6" cy="1281.1" rx="3.3" ry="4"/><ellipse cx="994.0" cy="1282.3" rx="3.3" ry="4"/><ellipse cx="998.4" cy="1283.5" rx="3.3" ry="4"/><ellipse cx="1002.8" cy="1284.8" rx="3.3" ry="4"/><ellipse cx="1007.2" cy="1286.1" rx="3.3" ry="4"/><ellipse cx="1011.6" cy="1287.7" rx="3.3" ry="4"/><ellipse cx="1016.0" cy="1289.7" rx="3.3" ry="4"/><ellipse cx="1020.4" cy="1287.7" rx="3.3" ry="4"/><ellipse cx="1024.8" cy="1286.1" rx="3.3" ry="4"/><ellipse cx="1029.2" cy="1284.8" rx="3.3" ry="4"/><ellipse cx="1033.6" cy="1283.5" rx="3.3" ry="4"/><ellipse cx="1038.0" cy="1282.3" rx="3.3" ry="4"/><ellipse cx="1042.4" cy="1281.1" rx="3.3" ry="4"/><ellipse cx="1046.8" cy="1280.0" rx="3.3" ry="4"/><ellipse cx="1051.2" cy="1278.9" rx="3.3" ry="4"/><ellipse cx="983.0" cy="1292.6" rx="3.3" ry="4"/><ellipse cx="987.1" cy="1293.3" rx="3.3" ry="4"/><ellipse cx="991.2" cy="1294.1" rx="3.3" ry="4"/><ellipse cx="995.4" cy="1294.9" rx="3.3" ry="4"/><ellipse cx="999.5" cy="1295.7" rx="3.3" ry="4"/><ellipse cx="1003.6" cy="1296.6" rx="3.3" ry="4"/><ellipse cx="1007.8" cy="1297.6" rx="3.3" ry="4"/><ellipse cx="1011.9" cy="1298.6" rx="3.3" ry="4"/><ellipse cx="1016.0" cy="1300.0" rx="3.3" ry="4"/><ellipse cx="1020.1" cy="1298.6" rx="3.3" ry="4"/><ellipse cx="1024.2" cy="1297.6" rx="3.3" ry="4"/><ellipse cx="1028.4" cy="1296.6" rx="3.3" ry="4"/><ellipse cx="1032.5" cy="1295.7" rx="3.3" ry="4"/><ellipse cx="1036.6" cy="1294.9" rx="3.3" ry="4"/><ellipse cx="1040.8" cy="1294.1" rx="3.3" ry="4"/><ellipse cx="1044.9" cy="1293.3" rx="3.3" ry="4"/><ellipse cx="1049.0" cy="1292.6" rx="3.3" ry="4"/><ellipse cx="980.0" cy="1307.7" rx="3.3" ry="4"/><ellipse cx="984.5" cy="1308.5" rx="3.3" ry="4"/><ellipse cx="989.0" cy="1309.3" rx="3.3" ry="4"/><ellipse cx="993.5" cy="1310.2" rx="3.3" ry="4"/><ellipse cx="998.0" cy="1311.1" rx="3.3" ry="4"/><ellipse cx="1002.5" cy="1312.0" rx="3.3" ry="4"/><ellipse cx="1007.0" cy="1313.1" rx="3.3" ry="4"/><ellipse cx="1011.5" cy="1314.2" rx="3.3" ry="4"/><ellipse cx="1016.0" cy="1315.7" rx="3.3" ry="4"/><ellipse cx="1020.5" cy="1314.2" rx="3.3" ry="4"/><ellipse cx="1025.0" cy="1313.1" rx="3.3" ry="4"/><ellipse cx="1029.5" cy="1312.0" rx="3.3" ry="4"/><ellipse cx="1034.0" cy="1311.1" rx="3.3" ry="4"/><ellipse cx="1038.5" cy="1310.2" rx="3.3" ry="4"/><ellipse cx="1043.0" cy="1309.3" rx="3.3" ry="4"/><ellipse cx="1047.5" cy="1308.5" rx="3.3" ry="4"/><ellipse cx="1052.0" cy="1307.7" rx="3.3" ry="4"/><ellipse cx="980.5" cy="1320.3" rx="3.3" ry="4"/><ellipse cx="985.2" cy="1321.5" rx="3.3" ry="4"/><ellipse cx="990.0" cy="1322.8" rx="3.3" ry="4"/><ellipse cx="994.7" cy="1324.1" rx="3.3" ry="4"/><ellipse cx="999.4" cy="1325.5" rx="3.3" ry="4"/><ellipse cx="1004.2" cy="1327.0" rx="3.3" ry="4"/><ellipse cx="1008.9" cy="1328.6" rx="3.3" ry="4"/><ellipse cx="1013.6" cy="1330.4" rx="3.3" ry="4"/><ellipse cx="1018.4" cy="1330.4" rx="3.3" ry="4"/><ellipse cx="1023.1" cy="1328.6" rx="3.3" ry="4"/><ellipse cx="1027.8" cy="1327.0" rx="3.3" ry="4"/><ellipse cx="1032.6" cy="1325.5" rx="3.3" ry="4"/><ellipse cx="1037.3" cy="1324.1" rx="3.3" ry="4"/><ellipse cx="1042.0" cy="1322.8" rx="3.3" ry="4"/><ellipse cx="1046.8" cy="1321.5" rx="3.3" ry="4"/><ellipse cx="1051.5" cy="1320.3" rx="3.3" ry="4"/><ellipse cx="980.5" cy="1332.3" rx="3.3" ry="4"/><ellipse cx="985.2" cy="1333.5" rx="3.3" ry="4"/><ellipse cx="990.0" cy="1334.7" rx="3.3" ry="4"/><ellipse cx="994.7" cy="1335.9" rx="3.3" ry="4"/><ellipse cx="999.4" cy="1337.2" rx="3.3" ry="4"/><ellipse cx="1004.2" cy="1338.6" rx="3.3" ry="4"/><ellipse cx="1008.9" cy="1340.1" rx="3.3" ry="4"/><ellipse cx="1013.6" cy="1341.9" rx="3.3" ry="4"/><ellipse cx="1018.4" cy="1341.9" rx="3.3" ry="4"/><ellipse cx="1023.1" cy="1340.1" rx="3.3" ry="4"/><ellipse cx="1027.8" cy="1338.6" rx="3.3" ry="4"/><ellipse cx="1032.6" cy="1337.2" rx="3.3" ry="4"/><ellipse cx="1037.3" cy="1335.9" rx="3.3" ry="4"/><ellipse cx="1042.0" cy="1334.7" rx="3.3" ry="4"/><ellipse cx="1046.8" cy="1333.5" rx="3.3" ry="4"/><ellipse cx="1051.5" cy="1332.3" rx="3.3" ry="4"/><ellipse cx="980.8" cy="1344.3" rx="3.3" ry="4"/><ellipse cx="986.6" cy="1345.8" rx="3.3" ry="4"/><ellipse cx="992.5" cy="1347.5" rx="3.3" ry="4"/><ellipse cx="998.4" cy="1349.2" rx="3.3" ry="4"/><ellipse cx="1004.2" cy="1351.0" rx="3.3" ry="4"/><ellipse cx="1010.1" cy="1353.0" rx="3.3" ry="4"/><ellipse cx="1016.0" cy="1355.7" rx="3.3" ry="4"/><ellipse cx="1021.9" cy="1353.0" rx="3.3" ry="4"/><ellipse cx="1027.8" cy="1351.0" rx="3.3" ry="4"/><ellipse cx="1033.6" cy="1349.2" rx="3.3" ry="4"/><ellipse cx="1039.5" cy="1347.5" rx="3.3" ry="4"/><ellipse cx="1045.4" cy="1345.8" rx="3.3" ry="4"/><ellipse cx="1051.2" cy="1344.3" rx="3.3" ry="4"/><ellipse cx="984.9" cy="1361.4" rx="3.3" ry="4"/><ellipse cx="995.4" cy="1362.3" rx="3.3" ry="4"/><ellipse cx="1005.7" cy="1368.3" rx="3.3" ry="4"/><ellipse cx="1016.0" cy="1368.3" rx="3.3" ry="4"/><ellipse cx="1026.5" cy="1373.4" rx="3.3" ry="4"/><ellipse cx="1031.4" cy="1368.3" rx="3.3" ry="4"/><ellipse cx="1036.8" cy="1367.7" rx="3.3" ry="4"/><ellipse cx="1042.1" cy="1364.3" rx="3.3" ry="4"/><ellipse cx="1052.6" cy="1362.0" rx="3.3" ry="4"/><ellipse cx="990.1" cy="1373.4" rx="3.3" ry="4"/><ellipse cx="1000.6" cy="1379.7" rx="3.3" ry="4"/><ellipse cx="1016.0" cy="1380.6" rx="3.3" ry="4"/><ellipse cx="995.2" cy="1387.5" rx="3.3" ry="4"/><ellipse cx="1005.7" cy="1389.8" rx="3.3" ry="4"/><ellipse cx="1036.8" cy="1388.9" rx="3.3" ry="4"/><ellipse cx="1016.0" cy="1395.4" rx="3.3" ry="4"/><ellipse cx="1026.5" cy="1395.1" rx="3.3" ry="4"/><ellipse cx="990.1" cy="1409.4" rx="3.3" ry="4"/><ellipse cx="1000.6" cy="1411.7" rx="3.3" ry="4"/><ellipse cx="1016.0" cy="1413.4" rx="3.3" ry="4"/><ellipse cx="1026.5" cy="1411.7" rx="3.3" ry="4"/><ellipse cx="1036.8" cy="1406.0" rx="3.3" ry="4"/><ellipse cx="1005.7" cy="1422.6" rx="3.3" ry="4"/><ellipse cx="1016.0" cy="1429.4" rx="3.3" ry="4"/><ellipse cx="1026.5" cy="1427.5" rx="3.3" ry="4"/><ellipse cx="1135.8" cy="1149.1" rx="3.3" ry="4"/><ellipse cx="1120.0" cy="1171.7" rx="3.3" ry="4"/><ellipse cx="1130.6" cy="1175.1" rx="3.3" ry="4"/><ellipse cx="1146.3" cy="1176.3" rx="3.3" ry="4"/><ellipse cx="1156.6" cy="1174.2" rx="3.3" ry="4"/><ellipse cx="1141.1" cy="1184.9" rx="3.3" ry="4"/><ellipse cx="1125.5" cy="1193.1" rx="3.3" ry="4"/><ellipse cx="1120.0" cy="1202.6" rx="3.3" ry="4"/><ellipse cx="1130.6" cy="1205.2" rx="3.3" ry="4"/><ellipse cx="1141.1" cy="1206.0" rx="3.3" ry="4"/><ellipse cx="1151.4" cy="1202.6" rx="3.3" ry="4"/><ellipse cx="1101.5" cy="1212.6" rx="3.3" ry="4"/><ellipse cx="1111.4" cy="1213.2" rx="3.3" ry="4"/><ellipse cx="1170.3" cy="1210.0" rx="3.3" ry="4"/><ellipse cx="1160.3" cy="1213.2" rx="3.3" ry="4"/><ellipse cx="1150.5" cy="1215.9" rx="3.3" ry="4"/><ellipse cx="1120.9" cy="1219.7" rx="3.3" ry="4"/><ellipse cx="1130.9" cy="1220.9" rx="3.3" ry="4"/><ellipse cx="1140.6" cy="1219.7" rx="3.3" ry="4"/><ellipse cx="1130.9" cy="1224.9" rx="3.3" ry="4"/><ellipse cx="1140.6" cy="1226.0" rx="3.3" ry="4"/><ellipse cx="1103.7" cy="1227.1" rx="3.3" ry="4"/><ellipse cx="1108.0" cy="1228.3" rx="3.3" ry="4"/><ellipse cx="1112.2" cy="1229.6" rx="3.3" ry="4"/><ellipse cx="1116.5" cy="1231.0" rx="3.3" ry="4"/><ellipse cx="1120.8" cy="1232.3" rx="3.3" ry="4"/><ellipse cx="1125.0" cy="1233.8" rx="3.3" ry="4"/><ellipse cx="1129.3" cy="1235.4" rx="3.3" ry="4"/><ellipse cx="1133.6" cy="1237.3" rx="3.3" ry="4"/><ellipse cx="1137.8" cy="1237.3" rx="3.3" ry="4"/><ellipse cx="1142.1" cy="1235.4" rx="3.3" ry="4"/><ellipse cx="1146.4" cy="1233.8" rx="3.3" ry="4"/><ellipse cx="1150.6" cy="1232.3" rx="3.3" ry="4"/><ellipse cx="1154.9" cy="1231.0" rx="3.3" ry="4"/><ellipse cx="1159.2" cy="1229.6" rx="3.3" ry="4"/><ellipse cx="1163.4" cy="1228.3" rx="3.3" ry="4"/><ellipse cx="1167.7" cy="1227.1" rx="3.3" ry="4"/><ellipse cx="1103.2" cy="1240.5" rx="3.3" ry="4"/><ellipse cx="1107.5" cy="1241.8" rx="3.3" ry="4"/><ellipse cx="1111.9" cy="1243.2" rx="3.3" ry="4"/><ellipse cx="1116.2" cy="1244.7" rx="3.3" ry="4"/><ellipse cx="1120.5" cy="1246.2" rx="3.3" ry="4"/><ellipse cx="1124.9" cy="1247.8" rx="3.3" ry="4"/><ellipse cx="1129.2" cy="1249.5" rx="3.3" ry="4"/><ellipse cx="1133.5" cy="1251.5" rx="3.3" ry="4"/><ellipse cx="1137.9" cy="1251.5" rx="3.3" ry="4"/><ellipse cx="1142.2" cy="1249.5" rx="3.3" ry="4"/><ellipse cx="1146.5" cy="1247.8" rx="3.3" ry="4"/><ellipse cx="1150.9" cy="1246.2" rx="3.3" ry="4"/><ellipse cx="1155.2" cy="1244.7" rx="3.3" ry="4"/><ellipse cx="1159.5" cy="1243.2" rx="3.3" ry="4"/><ellipse cx="1163.9" cy="1241.8" rx="3.3" ry="4"/><ellipse cx="1168.2" cy="1240.5" rx="3.3" ry="4"/><ellipse cx="1103.2" cy="1254.6" rx="3.3" ry="4"/><ellipse cx="1107.5" cy="1255.8" rx="3.3" ry="4"/><ellipse cx="1111.9" cy="1257.0" rx="3.3" ry="4"/><ellipse cx="1116.2" cy="1258.2" rx="3.3" ry="4"/><ellipse cx="1120.5" cy="1259.5" rx="3.3" ry="4"/><ellipse cx="1124.9" cy="1260.9" rx="3.3" ry="4"/><ellipse cx="1129.2" cy="1262.4" rx="3.3" ry="4"/><ellipse cx="1133.5" cy="1264.2" rx="3.3" ry="4"/><ellipse cx="1137.9" cy="1264.2" rx="3.3" ry="4"/><ellipse cx="1142.2" cy="1262.4" rx="3.3" ry="4"/><ellipse cx="1146.5" cy="1260.9" rx="3.3" ry="4"/><ellipse cx="1150.9" cy="1259.5" rx="3.3" ry="4"/><ellipse cx="1155.2" cy="1258.2" rx="3.3" ry="4"/><ellipse cx="1159.5" cy="1257.0" rx="3.3" ry="4"/><ellipse cx="1163.9" cy="1255.8" rx="3.3" ry="4"/><ellipse cx="1168.2" cy="1254.6" rx="3.3" ry="4"/><ellipse cx="1100.9" cy="1267.7" rx="3.3" ry="4"/><ellipse cx="1105.2" cy="1268.6" rx="3.3" ry="4"/><ellipse cx="1109.6" cy="1269.5" rx="3.3" ry="4"/><ellipse cx="1113.9" cy="1270.4" rx="3.3" ry="4"/><ellipse cx="1118.3" cy="1271.4" rx="3.3" ry="4"/><ellipse cx="1122.6" cy="1272.4" rx="3.3" ry="4"/><ellipse cx="1127.0" cy="1273.5" rx="3.3" ry="4"/><ellipse cx="1131.3" cy="1274.7" rx="3.3" ry="4"/><ellipse cx="1135.7" cy="1276.3" rx="3.3" ry="4"/><ellipse cx="1140.1" cy="1274.7" rx="3.3" ry="4"/><ellipse cx="1144.4" cy="1273.5" rx="3.3" ry="4"/><ellipse cx="1148.8" cy="1272.4" rx="3.3" ry="4"/><ellipse cx="1153.1" cy="1271.4" rx="3.3" ry="4"/><ellipse cx="1157.5" cy="1270.4" rx="3.3" ry="4"/><ellipse cx="1161.8" cy="1269.5" rx="3.3" ry="4"/><ellipse cx="1166.2" cy="1268.6" rx="3.3" ry="4"/><ellipse cx="1170.6" cy="1267.7" rx="3.3" ry="4"/><ellipse cx="1103.7" cy="1278.6" rx="3.3" ry="4"/><ellipse cx="1107.7" cy="1279.5" rx="3.3" ry="4"/><ellipse cx="1111.7" cy="1280.3" rx="3.3" ry="4"/><ellipse cx="1115.7" cy="1281.2" rx="3.3" ry="4"/><ellipse cx="1119.7" cy="1282.2" rx="3.3" ry="4"/><ellipse cx="1123.7" cy="1283.2" rx="3.3" ry="4"/><ellipse cx="1127.7" cy="1284.2" rx="3.3" ry="4"/><ellipse cx="1131.7" cy="1285.4" rx="3.3" ry="4"/><ellipse cx="1135.7" cy="1287.0" rx="3.3" ry="4"/><ellipse cx="1139.7" cy="1285.4" rx="3.3" ry="4"/><ellipse cx="1143.7" cy="1284.2" rx="3.3" ry="4"/><ellipse cx="1147.7" cy="1283.2" rx="3.3" ry="4"/><ellipse cx="1151.7" cy="1282.2" rx="3.3" ry="4"/><ellipse cx="1155.7" cy="1281.2" rx="3.3" ry="4"/><ellipse cx="1159.7" cy="1280.3" rx="3.3" ry="4"/><ellipse cx="1163.7" cy="1279.5" rx="3.3" ry="4"/><ellipse cx="1167.7" cy="1278.6" rx="3.3" ry="4"/><ellipse cx="1100.7" cy="1291.4" rx="3.3" ry="4"/><ellipse cx="1105.1" cy="1292.2" rx="3.3" ry="4"/><ellipse cx="1109.5" cy="1292.9" rx="3.3" ry="4"/><ellipse cx="1113.8" cy="1293.8" rx="3.3" ry="4"/><ellipse cx="1118.2" cy="1294.6" rx="3.3" ry="4"/><ellipse cx="1122.6" cy="1295.5" rx="3.3" ry="4"/><ellipse cx="1127.0" cy="1296.4" rx="3.3" ry="4"/><ellipse cx="1131.3" cy="1297.5" rx="3.3" ry="4"/><ellipse cx="1135.7" cy="1298.9" rx="3.3" ry="4"/><ellipse cx="1140.1" cy="1297.5" rx="3.3" ry="4"/><ellipse cx="1144.5" cy="1296.4" rx="3.3" ry="4"/><ellipse cx="1148.8" cy="1295.5" rx="3.3" ry="4"/><ellipse cx="1153.2" cy="1294.6" rx="3.3" ry="4"/><ellipse cx="1157.6" cy="1293.8" rx="3.3" ry="4"/><ellipse cx="1162.0" cy="1292.9" rx="3.3" ry="4"/><ellipse cx="1166.3" cy="1292.2" rx="3.3" ry="4"/><ellipse cx="1170.7" cy="1291.4" rx="3.3" ry="4"/><ellipse cx="1100.9" cy="1306.3" rx="3.3" ry="4"/><ellipse cx="1105.2" cy="1307.2" rx="3.3" ry="4"/><ellipse cx="1109.6" cy="1308.2" rx="3.3" ry="4"/><ellipse cx="1113.9" cy="1309.2" rx="3.3" ry="4"/><ellipse cx="1118.3" cy="1310.2" rx="3.3" ry="4"/><ellipse cx="1122.6" cy="1311.2" rx="3.3" ry="4"/><ellipse cx="1127.0" cy="1312.4" rx="3.3" ry="4"/><ellipse cx="1131.3" cy="1313.7" rx="3.3" ry="4"/><ellipse cx="1135.7" cy="1315.4" rx="3.3" ry="4"/><ellipse cx="1140.1" cy="1313.7" rx="3.3" ry="4"/><ellipse cx="1144.4" cy="1312.4" rx="3.3" ry="4"/><ellipse cx="1148.8" cy="1311.2" rx="3.3" ry="4"/><ellipse cx="1153.1" cy="1310.2" rx="3.3" ry="4"/><ellipse cx="1157.5" cy="1309.2" rx="3.3" ry="4"/><ellipse cx="1161.8" cy="1308.2" rx="3.3" ry="4"/><ellipse cx="1166.2" cy="1307.2" rx="3.3" ry="4"/><ellipse cx="1170.6" cy="1306.3" rx="3.3" ry="4"/><ellipse cx="1103.8" cy="1343.8" rx="3.3" ry="4"/><ellipse cx="1109.6" cy="1345.4" rx="3.3" ry="4"/><ellipse cx="1115.4" cy="1347.0" rx="3.3" ry="4"/><ellipse cx="1121.2" cy="1348.7" rx="3.3" ry="4"/><ellipse cx="1127.0" cy="1350.6" rx="3.3" ry="4"/><ellipse cx="1132.8" cy="1352.8" rx="3.3" ry="4"/><ellipse cx="1138.6" cy="1352.8" rx="3.3" ry="4"/><ellipse cx="1144.4" cy="1350.6" rx="3.3" ry="4"/><ellipse cx="1150.2" cy="1348.7" rx="3.3" ry="4"/><ellipse cx="1156.0" cy="1347.0" rx="3.3" ry="4"/><ellipse cx="1161.8" cy="1345.4" rx="3.3" ry="4"/><ellipse cx="1167.6" cy="1343.8" rx="3.3" ry="4"/><ellipse cx="1130.3" cy="1305.7" rx="3.3" ry="4"/><ellipse cx="1140.6" cy="1305.7" rx="3.3" ry="4"/><ellipse cx="1101.1" cy="1317.4" rx="3.3" ry="4"/><ellipse cx="1109.9" cy="1324.0" rx="3.3" ry="4"/><ellipse cx="1118.5" cy="1325.4" rx="3.3" ry="4"/><ellipse cx="1127.1" cy="1326.9" rx="3.3" ry="4"/><ellipse cx="1130.3" cy="1332.6" rx="3.3" ry="4"/><ellipse cx="1135.7" cy="1329.7" rx="3.3" ry="4"/><ellipse cx="1140.6" cy="1332.0" rx="3.3" ry="4"/><ellipse cx="1144.6" cy="1328.0" rx="3.3" ry="4"/><ellipse cx="1145.4" cy="1322.9" rx="3.3" ry="4"/><ellipse cx="1157.5" cy="1325.7" rx="3.3" ry="4"/><ellipse cx="1166.1" cy="1324.0" rx="3.3" ry="4"/><ellipse cx="1105.4" cy="1335.4" rx="3.3" ry="4"/><ellipse cx="1118.5" cy="1338.1" rx="3.3" ry="4"/><ellipse cx="1127.1" cy="1340.0" rx="3.3" ry="4"/><ellipse cx="1130.3" cy="1343.4" rx="3.3" ry="4"/><ellipse cx="1135.7" cy="1342.3" rx="3.3" ry="4"/><ellipse cx="1140.6" cy="1343.4" rx="3.3" ry="4"/><ellipse cx="1144.6" cy="1340.0" rx="3.3" ry="4"/><ellipse cx="1153.1" cy="1335.2" rx="3.3" ry="4"/><ellipse cx="1166.1" cy="1334.6" rx="3.3" ry="4"/><ellipse cx="1130.3" cy="1357.7" rx="3.3" ry="4"/><ellipse cx="1140.6" cy="1358.3" rx="3.3" ry="4"/><ellipse cx="1104.6" cy="1357.9" rx="3.3" ry="4"/><ellipse cx="1111.8" cy="1360.3" rx="3.3" ry="4"/><ellipse cx="1118.5" cy="1364.0" rx="3.3" ry="4"/><ellipse cx="1125.5" cy="1366.3" rx="3.3" ry="4"/><ellipse cx="1132.6" cy="1368.6" rx="3.3" ry="4"/><ellipse cx="1139.2" cy="1368.3" rx="3.3" ry="4"/><ellipse cx="1146.3" cy="1365.9" rx="3.3" ry="4"/><ellipse cx="1153.1" cy="1364.3" rx="3.3" ry="4"/><ellipse cx="1160.0" cy="1363.1" rx="3.3" ry="4"/><ellipse cx="1167.1" cy="1359.7" rx="3.3" ry="4"/><ellipse cx="1104.6" cy="1370.3" rx="3.3" ry="4"/><ellipse cx="1115.1" cy="1373.1" rx="3.3" ry="4"/><ellipse cx="1125.5" cy="1375.4" rx="3.3" ry="4"/><ellipse cx="1135.8" cy="1381.7" rx="3.3" ry="4"/><ellipse cx="1151.4" cy="1379.2" rx="3.3" ry="4"/><ellipse cx="1161.7" cy="1375.7" rx="3.3" ry="4"/><ellipse cx="1172.2" cy="1371.8" rx="3.3" ry="4"/><ellipse cx="1125.5" cy="1391.4" rx="3.3" ry="4"/><ellipse cx="1135.8" cy="1398.1" rx="3.3" ry="4"/><ellipse cx="1146.3" cy="1389.5" rx="3.3" ry="4"/><ellipse cx="1135.8" cy="1448.6" rx="3.3" ry="4"/><ellipse cx="1260.6" cy="943.5" rx="3.3" ry="4"/><ellipse cx="1250.3" cy="951.9" rx="3.3" ry="4"/><ellipse cx="1245.1" cy="976.4" rx="3.3" ry="4"/><ellipse cx="1255.4" cy="979.5" rx="3.3" ry="4"/><ellipse cx="1265.7" cy="975.6" rx="3.3" ry="4"/><ellipse cx="1281.5" cy="981.8" rx="3.3" ry="4"/><ellipse cx="1224.6" cy="986.7" rx="3.3" ry="4"/><ellipse cx="1234.6" cy="989.3" rx="3.3" ry="4"/><ellipse cx="1245.1" cy="991.9" rx="3.3" ry="4"/><ellipse cx="1240.0" cy="996.8" rx="3.3" ry="4"/><ellipse cx="1260.6" cy="990.1" rx="3.3" ry="4"/><ellipse cx="1271.1" cy="989.3" rx="3.3" ry="4"/><ellipse cx="1276.3" cy="998.5" rx="3.3" ry="4"/><ellipse cx="1250.3" cy="1002.5" rx="3.3" ry="4"/><ellipse cx="1265.9" cy="1005.9" rx="3.3" ry="4"/><ellipse cx="1240.0" cy="1013.9" rx="3.3" ry="4"/><ellipse cx="1260.6" cy="1016.4" rx="3.3" ry="4"/><ellipse cx="1271.1" cy="1013.6" rx="3.3" ry="4"/><ellipse cx="1250.3" cy="1021.8" rx="3.3" ry="4"/><ellipse cx="1234.6" cy="1026.7" rx="3.3" ry="4"/><ellipse cx="1265.9" cy="1028.4" rx="3.3" ry="4"/><ellipse cx="1276.3" cy="1025.6" rx="3.3" ry="4"/><ellipse cx="1245.1" cy="1035.3" rx="3.3" ry="4"/><ellipse cx="1255.4" cy="1035.6" rx="3.3" ry="4"/><ellipse cx="1250.3" cy="1049.2" rx="3.3" ry="4"/><ellipse cx="1260.6" cy="1046.9" rx="3.3" ry="4"/><ellipse cx="1221.1" cy="1054.0" rx="3.3" ry="4"/><ellipse cx="1231.1" cy="1057.5" rx="3.3" ry="4"/><ellipse cx="1240.8" cy="1060.0" rx="3.3" ry="4"/><ellipse cx="1250.6" cy="1066.1" rx="3.3" ry="4"/><ellipse cx="1260.4" cy="1066.4" rx="3.3" ry="4"/><ellipse cx="1270.2" cy="1065.8" rx="3.3" ry="4"/><ellipse cx="1280.1" cy="1058.3" rx="3.3" ry="4"/><ellipse cx="1290.0" cy="1055.7" rx="3.3" ry="4"/><ellipse cx="1219.0" cy="1067.7" rx="3.3" ry="4"/><ellipse cx="1224.2" cy="1069.1" rx="3.3" ry="4"/><ellipse cx="1229.4" cy="1070.6" rx="3.3" ry="4"/><ellipse cx="1234.6" cy="1072.1" rx="3.3" ry="4"/><ellipse cx="1239.8" cy="1073.7" rx="3.3" ry="4"/><ellipse cx="1245.0" cy="1075.4" rx="3.3" ry="4"/><ellipse cx="1250.2" cy="1077.3" rx="3.3" ry="4"/><ellipse cx="1255.4" cy="1079.9" rx="3.3" ry="4"/><ellipse cx="1260.6" cy="1077.3" rx="3.3" ry="4"/><ellipse cx="1265.8" cy="1075.4" rx="3.3" ry="4"/><ellipse cx="1271.0" cy="1073.7" rx="3.3" ry="4"/><ellipse cx="1276.2" cy="1072.1" rx="3.3" ry="4"/><ellipse cx="1281.4" cy="1070.6" rx="3.3" ry="4"/><ellipse cx="1286.6" cy="1069.1" rx="3.3" ry="4"/><ellipse cx="1291.9" cy="1067.7" rx="3.3" ry="4"/><ellipse cx="1220.8" cy="1081.3" rx="3.3" ry="4"/><ellipse cx="1227.7" cy="1083.1" rx="3.3" ry="4"/><ellipse cx="1234.6" cy="1085.0" rx="3.3" ry="4"/><ellipse cx="1241.5" cy="1087.0" rx="3.3" ry="4"/><ellipse cx="1248.5" cy="1089.2" rx="3.3" ry="4"/><ellipse cx="1255.4" cy="1092.2" rx="3.3" ry="4"/><ellipse cx="1262.3" cy="1089.2" rx="3.3" ry="4"/><ellipse cx="1269.3" cy="1087.0" rx="3.3" ry="4"/><ellipse cx="1276.2" cy="1085.0" rx="3.3" ry="4"/><ellipse cx="1283.1" cy="1083.1" rx="3.3" ry="4"/><ellipse cx="1290.0" cy="1081.3" rx="3.3" ry="4"/><ellipse cx="1223.7" cy="1100.2" rx="3.3" ry="4"/><ellipse cx="1229.5" cy="1101.6" rx="3.3" ry="4"/><ellipse cx="1235.2" cy="1103.1" rx="3.3" ry="4"/><ellipse cx="1241.0" cy="1104.6" rx="3.3" ry="4"/><ellipse cx="1246.8" cy="1106.3" rx="3.3" ry="4"/><ellipse cx="1252.5" cy="1108.3" rx="3.3" ry="4"/><ellipse cx="1258.3" cy="1108.3" rx="3.3" ry="4"/><ellipse cx="1264.0" cy="1106.3" rx="3.3" ry="4"/><ellipse cx="1269.8" cy="1104.6" rx="3.3" ry="4"/><ellipse cx="1275.6" cy="1103.1" rx="3.3" ry="4"/><ellipse cx="1281.3" cy="1101.6" rx="3.3" ry="4"/><ellipse cx="1287.1" cy="1100.2" rx="3.3" ry="4"/><ellipse cx="1219.0" cy="1110.8" rx="3.3" ry="4"/><ellipse cx="1223.5" cy="1111.6" rx="3.3" ry="4"/><ellipse cx="1228.1" cy="1112.4" rx="3.3" ry="4"/><ellipse cx="1232.6" cy="1113.2" rx="3.3" ry="4"/><ellipse cx="1237.2" cy="1114.1" rx="3.3" ry="4"/><ellipse cx="1241.7" cy="1115.0" rx="3.3" ry="4"/><ellipse cx="1246.3" cy="1116.0" rx="3.3" ry="4"/><ellipse cx="1250.8" cy="1117.0" rx="3.3" ry="4"/><ellipse cx="1255.4" cy="1118.5" rx="3.3" ry="4"/><ellipse cx="1260.0" cy="1117.0" rx="3.3" ry="4"/><ellipse cx="1264.5" cy="1116.0" rx="3.3" ry="4"/><ellipse cx="1269.1" cy="1115.0" rx="3.3" ry="4"/><ellipse cx="1273.6" cy="1114.1" rx="3.3" ry="4"/><ellipse cx="1278.2" cy="1113.2" rx="3.3" ry="4"/><ellipse cx="1282.7" cy="1112.4" rx="3.3" ry="4"/><ellipse cx="1287.3" cy="1111.6" rx="3.3" ry="4"/><ellipse cx="1291.9" cy="1110.8" rx="3.3" ry="4"/><ellipse cx="1219.4" cy="1123.0" rx="3.3" ry="4"/><ellipse cx="1223.9" cy="1124.3" rx="3.3" ry="4"/><ellipse cx="1228.4" cy="1125.7" rx="3.3" ry="4"/><ellipse cx="1232.9" cy="1127.1" rx="3.3" ry="4"/><ellipse cx="1237.4" cy="1128.5" rx="3.3" ry="4"/><ellipse cx="1241.9" cy="1130.1" rx="3.3" ry="4"/><ellipse cx="1246.4" cy="1131.7" rx="3.3" ry="4"/><ellipse cx="1250.9" cy="1133.5" rx="3.3" ry="4"/><ellipse cx="1255.4" cy="1136.0" rx="3.3" ry="4"/><ellipse cx="1259.9" cy="1133.5" rx="3.3" ry="4"/><ellipse cx="1264.4" cy="1131.7" rx="3.3" ry="4"/><ellipse cx="1268.9" cy="1130.1" rx="3.3" ry="4"/><ellipse cx="1273.4" cy="1128.5" rx="3.3" ry="4"/><ellipse cx="1277.9" cy="1127.1" rx="3.3" ry="4"/><ellipse cx="1282.4" cy="1125.7" rx="3.3" ry="4"/><ellipse cx="1286.9" cy="1124.3" rx="3.3" ry="4"/><ellipse cx="1291.4" cy="1123.0" rx="3.3" ry="4"/><ellipse cx="1220.6" cy="1138.7" rx="3.3" ry="4"/><ellipse cx="1226.4" cy="1140.6" rx="3.3" ry="4"/><ellipse cx="1232.2" cy="1142.6" rx="3.3" ry="4"/><ellipse cx="1238.0" cy="1144.7" rx="3.3" ry="4"/><ellipse cx="1243.8" cy="1147.0" rx="3.3" ry="4"/><ellipse cx="1249.6" cy="1149.5" rx="3.3" ry="4"/><ellipse cx="1255.4" cy="1152.9" rx="3.3" ry="4"/><ellipse cx="1261.2" cy="1149.5" rx="3.3" ry="4"/><ellipse cx="1267.0" cy="1147.0" rx="3.3" ry="4"/><ellipse cx="1272.8" cy="1144.7" rx="3.3" ry="4"/><ellipse cx="1278.6" cy="1142.6" rx="3.3" ry="4"/><ellipse cx="1284.4" cy="1140.6" rx="3.3" ry="4"/><ellipse cx="1290.3" cy="1138.7" rx="3.3" ry="4"/><ellipse cx="1220.6" cy="1166.3" rx="3.3" ry="4"/><ellipse cx="1226.4" cy="1168.3" rx="3.3" ry="4"/><ellipse cx="1232.2" cy="1170.5" rx="3.3" ry="4"/><ellipse cx="1238.0" cy="1172.7" rx="3.3" ry="4"/><ellipse cx="1243.8" cy="1175.1" rx="3.3" ry="4"/><ellipse cx="1249.6" cy="1177.8" rx="3.3" ry="4"/><ellipse cx="1255.4" cy="1181.4" rx="3.3" ry="4"/><ellipse cx="1261.2" cy="1177.8" rx="3.3" ry="4"/><ellipse cx="1267.0" cy="1175.1" rx="3.3" ry="4"/><ellipse cx="1272.8" cy="1172.7" rx="3.3" ry="4"/><ellipse cx="1278.6" cy="1170.5" rx="3.3" ry="4"/><ellipse cx="1284.4" cy="1168.3" rx="3.3" ry="4"/><ellipse cx="1290.3" cy="1166.3" rx="3.3" ry="4"/><ellipse cx="1250.4" cy="1099.1" rx="3.3" ry="4"/><ellipse cx="1260.7" cy="1097.6" rx="3.3" ry="4"/><ellipse cx="1224.0" cy="1154.2" rx="3.3" ry="4"/><ellipse cx="1231.2" cy="1154.2" rx="3.3" ry="4"/><ellipse cx="1238.3" cy="1155.1" rx="3.3" ry="4"/><ellipse cx="1244.6" cy="1162.6" rx="3.3" ry="4"/><ellipse cx="1252.0" cy="1163.1" rx="3.3" ry="4"/><ellipse cx="1258.9" cy="1163.1" rx="3.3" ry="4"/><ellipse cx="1266.1" cy="1160.3" rx="3.3" ry="4"/><ellipse cx="1272.9" cy="1154.9" rx="3.3" ry="4"/><ellipse cx="1280.0" cy="1154.0" rx="3.3" ry="4"/><ellipse cx="1286.9" cy="1154.0" rx="3.3" ry="4"/><ellipse cx="1224.3" cy="1184.9" rx="3.3" ry="4"/><ellipse cx="1231.4" cy="1187.1" rx="3.3" ry="4"/><ellipse cx="1238.3" cy="1189.4" rx="3.3" ry="4"/><ellipse cx="1245.1" cy="1189.4" rx="3.3" ry="4"/><ellipse cx="1252.0" cy="1190.0" rx="3.3" ry="4"/><ellipse cx="1258.9" cy="1190.0" rx="3.3" ry="4"/><ellipse cx="1266.1" cy="1188.9" rx="3.3" ry="4"/><ellipse cx="1272.9" cy="1187.1" rx="3.3" ry="4"/><ellipse cx="1280.0" cy="1186.0" rx="3.3" ry="4"/><ellipse cx="1286.9" cy="1183.5" rx="3.3" ry="4"/><ellipse cx="1260.6" cy="1194.6" rx="3.3" ry="4"/><ellipse cx="1220.8" cy="1195.7" rx="3.3" ry="4"/><ellipse cx="1229.7" cy="1198.0" rx="3.3" ry="4"/><ellipse cx="1238.3" cy="1203.1" rx="3.3" ry="4"/><ellipse cx="1246.9" cy="1204.5" rx="3.3" ry="4"/><ellipse cx="1255.4" cy="1205.4" rx="3.3" ry="4"/><ellipse cx="1264.2" cy="1204.3" rx="3.3" ry="4"/><ellipse cx="1272.9" cy="1201.4" rx="3.3" ry="4"/><ellipse cx="1286.1" cy="1198.2" rx="3.3" ry="4"/><ellipse cx="1229.7" cy="1209.8" rx="3.3" ry="4"/><ellipse cx="1240.0" cy="1213.4" rx="3.3" ry="4"/><ellipse cx="1250.3" cy="1218.3" rx="3.3" ry="4"/><ellipse cx="1260.6" cy="1218.0" rx="3.3" ry="4"/><ellipse cx="1271.1" cy="1211.4" rx="3.3" ry="4"/><ellipse cx="1281.4" cy="1206.6" rx="3.3" ry="4"/><ellipse cx="1220.8" cy="1224.3" rx="3.3" ry="4"/><ellipse cx="1229.7" cy="1224.9" rx="3.3" ry="4"/><ellipse cx="1238.3" cy="1228.9" rx="3.3" ry="4"/><ellipse cx="1246.9" cy="1231.1" rx="3.3" ry="4"/><ellipse cx="1255.4" cy="1231.7" rx="3.3" ry="4"/><ellipse cx="1264.2" cy="1228.5" rx="3.3" ry="4"/><ellipse cx="1272.9" cy="1227.4" rx="3.3" ry="4"/><ellipse cx="1281.4" cy="1224.3" rx="3.3" ry="4"/><ellipse cx="1290.3" cy="1220.5" rx="3.3" ry="4"/><ellipse cx="1224.3" cy="1241.8" rx="3.3" ry="4"/><ellipse cx="1234.9" cy="1245.4" rx="3.3" ry="4"/><ellipse cx="1239.8" cy="1251.5" rx="3.3" ry="4"/><ellipse cx="1245.1" cy="1250.0" rx="3.3" ry="4"/><ellipse cx="1260.6" cy="1249.2" rx="3.3" ry="4"/><ellipse cx="1271.1" cy="1242.6" rx="3.3" ry="4"/><ellipse cx="1281.4" cy="1239.1" rx="3.3" ry="4"/><ellipse cx="1250.3" cy="1258.8" rx="3.3" ry="4"/><ellipse cx="1260.6" cy="1262.6" rx="3.3" ry="4"/><ellipse cx="1271.1" cy="1257.4" rx="3.3" ry="4"/><ellipse cx="1255.4" cy="1279.4" rx="3.3" ry="4"/><ellipse cx="1266.1" cy="1287.1" rx="3.3" ry="4"/><ellipse cx="1245.1" cy="1296.9" rx="3.3" ry="4"/><ellipse cx="1255.4" cy="1297.4" rx="3.3" ry="4"/><ellipse cx="1255.4" cy="1315.4" rx="3.3" ry="4"/></g>
<rect x="857" y="1296.5" width="79" height="8.5"/>
<rect x="976" y="1297" width="79.6" height="8.5"/>
<rect x="1096.4" y="1284.3" width="79.2" height="8.1"/>
<rect x="1216" y="1119.7" width="79.2" height="13"/>
<rect x="1489.2" y="897" width="5.2" height="419.4"/>
<rect x="1477" y="1310.2" width="599.4" height="6.2"/>
<rect x="1477" y="897" width="14.8" height="5.6"/>
<text transform="translate(1476.2,911.3) scale(0.88,1)" font-size="33.2" font-weight="bold" text-anchor="end">4</text>
<rect x="1477" y="1000.2" width="14.8" height="5.6"/>
<text transform="translate(1476.2,1014.5) scale(0.88,1)" font-size="33.2" font-weight="bold" text-anchor="end">3</text>
<rect x="1477" y="1104.2" width="14.8" height="5.6"/>
<text transform="translate(1476.2,1118.5) scale(0.88,1)" font-size="33.2" font-weight="bold" text-anchor="end">2</text>
<rect x="1477" y="1207.8" width="14.8" height="5.6"/>
<text transform="translate(1476.2,1222.1) scale(0.88,1)" font-size="33.2" font-weight="bold" text-anchor="end">1</text>
<text transform="translate(1476.2,1325) scale(0.88,1)" font-size="33.2" font-weight="bold" text-anchor="end">0</text>
<rect x="1629.5" y="1313.3" width="5.6" height="16.4"/>
<rect x="1932.2" y="1313.3" width="5.6" height="16.4"/>
<path d="M1510.8 1313.3V1230.2q0 -2.2 2.2 -2.2H1557.4q2.2 0 2.2 2.2V1313.3z"/>
<rect x="1516" y="1234" width="38.4" height="79.3" fill="#fff"/>
<rect x="1516" y="1234" width="38.4" height="79.3" fill="url(#Fd)"/>
<path d="M1575.8 1313.3V1237.2q0 -2.2 2.2 -2.2H1622.4q2.2 0 2.2 2.2V1313.3z"/>
<rect x="1581" y="1241" width="38.4" height="72.3" fill="#fff"/>
<rect x="1581" y="1241" width="38.4" height="72.3" fill="url(#Fc)"/>
<path d="M1641 1313.3V1220q0 -2.2 2.2 -2.2H1687.3q2.2 0 2.2 2.2V1313.3z"/>
<rect x="1646.2" y="1223.8" width="38.1" height="89.5" fill="#fff"/>
<rect x="1646.2" y="1223.8" width="38.1" height="89.5" fill="url(#Fh)"/>
<path d="M1708.2 1313.3V1200.8q0 -1 1 -1H1750.5q1 0 1 1V1313.3z"/>
<path d="M1814 1313.3V1134.2q0 -2.2 2.2 -2.2H1860.2q2.2 0 2.2 2.2V1313.3z"/>
<rect x="1819.2" y="1138" width="38" height="175.3" fill="#fff"/>
<rect x="1819.2" y="1138" width="38" height="175.3" fill="url(#Fd)"/>
<path d="M1878.6 1313.3V1126.8q0 -2.2 2.2 -2.2H1925.4q2.2 0 2.2 2.2V1313.3z"/>
<rect x="1883.8" y="1130.6" width="38.6" height="182.7" fill="#fff"/>
<rect x="1883.8" y="1130.6" width="38.6" height="182.7" fill="url(#Fc)"/>
<path d="M1943.6 1313.3V1040.6q0 -2.2 2.2 -2.2H1990.2q2.2 0 2.2 2.2V1313.3z"/>
<rect x="1948.8" y="1044.4" width="38.4" height="268.9" fill="#fff"/>
<rect x="1948.8" y="1044.4" width="38.4" height="268.9" fill="url(#Fh)"/>
<path d="M2011.6 1313.3V970q0 -1 1 -1H2053.6q1 0 1 1V1313.3z"/>
<path d="M1524.8 1220.6H1545.2" stroke="#000" stroke-width="4.4" stroke-linecap="round"/>
<rect x="1533.1" y="1220.6" width="4.2" height="8.4"/>
<path d="M1589.8 1232H1610.7" stroke="#000" stroke-width="4.4" stroke-linecap="round"/>
<rect x="1598.1" y="1232" width="4.2" height="4"/>
<path d="M1654.6 1210H1675.2" stroke="#000" stroke-width="4.4" stroke-linecap="round"/>
<rect x="1662.9" y="1210" width="4.2" height="8.8"/>
<path d="M1719.6 1189.4H1740.2" stroke="#000" stroke-width="4.4" stroke-linecap="round"/>
<rect x="1727.9" y="1189.4" width="4.2" height="11.4"/>
<path d="M1828.2 1128H1848.4" stroke="#000" stroke-width="4.4" stroke-linecap="round"/>
<rect x="1836.1" y="1128" width="4.2" height="5"/>
<path d="M1892.8 1117H1913.4" stroke="#000" stroke-width="4.4" stroke-linecap="round"/>
<rect x="1900.9" y="1117" width="4.2" height="8.6"/>
<path d="M1957.8 1035H1978.2" stroke="#000" stroke-width="4.4" stroke-linecap="round"/>
<rect x="1965.9" y="1035" width="4.2" height="4.4"/>
<path d="M2022.8 963H2043.4" stroke="#000" stroke-width="4.4" stroke-linecap="round"/>
<rect x="2030.9" y="963" width="4.2" height="7"/>
<path d="M1517.3 1140.6H1734.3" stroke="#000" stroke-width="6.6" stroke-linecap="round"/>
<text transform="translate(1628.6,1140) scale(0.9,1)" font-size="33" font-weight="bold" text-anchor="middle">*</text>
<path d="M1515.9 1190H1675.7" stroke="#000" stroke-width="6.6" stroke-linecap="round"/>
<text transform="translate(1600.2,1181.2) scale(0.9,1)" font-size="29.3" text-anchor="middle">NS</text>
<path d="M1816.9 937.4H2042.3" stroke="#000" stroke-width="6.6" stroke-linecap="round"/>
<text transform="translate(1934,939) scale(0.9,1)" font-size="33" font-weight="bold" text-anchor="middle">*</text>
<path d="M1814.3 1018.6H1988.1" stroke="#000" stroke-width="6.6" stroke-linecap="round"/>
<text transform="translate(1905.6,1019) scale(0.9,1)" font-size="33" font-weight="bold" text-anchor="middle">*</text>
<path d="M1817.3 1095.2H1913.1" stroke="#000" stroke-width="6.6" stroke-linecap="round"/>
<text transform="translate(1867,1084.2) scale(0.9,1)" font-size="29.3" text-anchor="middle">NS</text>
<text transform="translate(1441,1106.5) rotate(-90)" font-size="33" font-weight="bold" text-anchor="middle">Insulin per 200 islets (ng/mL/hr)</text>
<rect x="1539.6" y="852.4" width="47.4" height="34"/>
<rect x="1545.1" y="857.9" width="36.4" height="23" fill="#fff"/>
<rect x="1545.1" y="857.9" width="36.4" height="23" fill="url(#Ld)"/>
<rect x="1539.6" y="913.4" width="47.4" height="34"/>
<rect x="1545.1" y="918.9" width="36.4" height="23" fill="#fff"/>
<rect x="1545.1" y="918.9" width="36.4" height="23" fill="url(#Lc)"/>
<rect x="1539.6" y="974.4" width="47.4" height="34"/>
<rect x="1545.1" y="979.9" width="36.4" height="23" fill="#fff"/>
<rect x="1545.1" y="979.9" width="36.4" height="23" fill="url(#Lh)"/>
<rect x="1542.4" y="1038.4" width="41.6" height="27.6"/>
<text transform="translate(1606.5,882)" font-size="33.2">Cre<tspan font-size="22.58" dy="-11.95">+</tspan><tspan dy="11.95">Ex</tspan><tspan font-size="22.58" dy="-11.95">-</tspan></text>
<text transform="translate(1606.5,943)" font-size="33.2">Cre<tspan font-size="22.58" dy="-11.95">+</tspan><tspan dy="11.95">Ex</tspan><tspan font-size="22.58" dy="-11.95">+</tspan></text>
<text transform="translate(1606.5,1004)" font-size="33.2">Cre<tspan font-size="22.58" dy="-11.95">-</tspan><tspan dy="11.95">Ex</tspan><tspan font-size="22.58" dy="-11.95">-</tspan></text>
<text transform="translate(1606.5,1065)" font-size="33.2">Cre<tspan font-size="22.58" dy="-11.95">-</tspan><tspan dy="11.95">Ex</tspan><tspan font-size="22.58" dy="-11.95">+</tspan></text>
<text transform="translate(1628.3,1352) rotate(-45)" font-size="30.2" font-weight="bold" text-anchor="end">Low Glucose</text>
<text transform="translate(1644.8,1387) rotate(-45)" font-size="30.2" font-weight="bold" text-anchor="end">(2.8 mmol/L)</text>
<text transform="translate(1927,1356) rotate(-45)" font-size="30.2" font-weight="bold" text-anchor="end">High Glucose</text>
<text transform="translate(1947.5,1387) rotate(-45)" font-size="30.2" font-weight="bold" text-anchor="end">(16.7 mmol/L)</text>
</svg>
</body></html>
